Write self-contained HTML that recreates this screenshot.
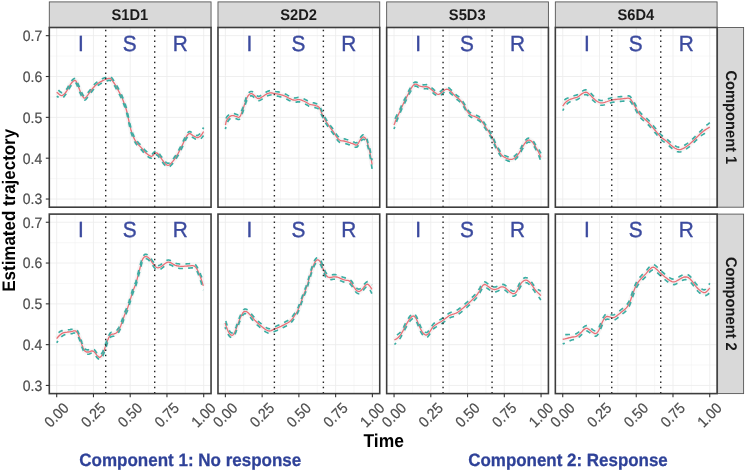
<!DOCTYPE html>
<html><head><meta charset="utf-8"><title>Estimated trajectory</title>
<style>html,body{margin:0;padding:0;background:#fff}svg{display:block}</style></head>
<body>
<svg width="745" height="472" viewBox="0 0 745 472" text-rendering="geometricPrecision" font-family="'Liberation Sans', Arial, Helvetica, sans-serif">
<rect width="745" height="472" fill="#fff"/>
<rect x="49.30" y="1.9" width="161.75" height="25.60" fill="#d9d9d9" stroke="#555" stroke-width="0.9"/>
<text transform="translate(129.88,19.7) scale(1,1.06)" font-size="14.7" font-weight="bold" fill="#1a1a1a" text-anchor="middle">S1D1</text>
<rect x="217.98" y="1.9" width="161.75" height="25.60" fill="#d9d9d9" stroke="#555" stroke-width="0.9"/>
<text transform="translate(298.56,19.7) scale(1,1.06)" font-size="14.7" font-weight="bold" fill="#1a1a1a" text-anchor="middle">S2D2</text>
<rect x="386.66" y="1.9" width="161.75" height="25.60" fill="#d9d9d9" stroke="#555" stroke-width="0.9"/>
<text transform="translate(467.24,19.7) scale(1,1.06)" font-size="14.7" font-weight="bold" fill="#1a1a1a" text-anchor="middle">S5D3</text>
<rect x="555.34" y="1.9" width="161.75" height="25.60" fill="#d9d9d9" stroke="#555" stroke-width="0.9"/>
<text transform="translate(635.92,19.7) scale(1,1.06)" font-size="14.7" font-weight="bold" fill="#1a1a1a" text-anchor="middle">S6D4</text>
<rect x="717.6" y="27.5" width="26.00" height="179.70" fill="#d9d9d9" stroke="#555" stroke-width="0.9"/>
<text transform="translate(725.6,117.35) rotate(90) scale(1,1.06)" font-size="14.7" font-weight="bold" fill="#1a1a1a" text-anchor="middle">Component 1</text>
<rect x="717.6" y="214.1" width="26.00" height="179.50" fill="#d9d9d9" stroke="#555" stroke-width="0.9"/>
<text transform="translate(725.6,303.85) rotate(90) scale(1,1.06)" font-size="14.7" font-weight="bold" fill="#1a1a1a" text-anchor="middle">Component 2</text>
<g>
<rect x="49.30" y="27.5" width="161.75" height="179.70" fill="#fff"/>
<line x1="75.07" x2="75.07" y1="27.5" y2="207.2" stroke="#f0f0f0" stroke-width="0.55"/>
<line x1="111.82" x2="111.82" y1="27.5" y2="207.2" stroke="#f0f0f0" stroke-width="0.55"/>
<line x1="148.57" x2="148.57" y1="27.5" y2="207.2" stroke="#f0f0f0" stroke-width="0.55"/>
<line x1="185.32" x2="185.32" y1="27.5" y2="207.2" stroke="#f0f0f0" stroke-width="0.55"/>
<line x1="49.30" x2="211.05" y1="178.61" y2="178.61" stroke="#f0f0f0" stroke-width="0.55"/>
<line x1="49.30" x2="211.05" y1="137.77" y2="137.77" stroke="#f0f0f0" stroke-width="0.55"/>
<line x1="49.30" x2="211.05" y1="96.93" y2="96.93" stroke="#f0f0f0" stroke-width="0.55"/>
<line x1="49.30" x2="211.05" y1="56.09" y2="56.09" stroke="#f0f0f0" stroke-width="0.55"/>
<line x1="56.70" x2="56.70" y1="27.5" y2="207.2" stroke="#ececec" stroke-width="0.85"/>
<line x1="93.45" x2="93.45" y1="27.5" y2="207.2" stroke="#ececec" stroke-width="0.85"/>
<line x1="130.20" x2="130.20" y1="27.5" y2="207.2" stroke="#ececec" stroke-width="0.85"/>
<line x1="166.95" x2="166.95" y1="27.5" y2="207.2" stroke="#ececec" stroke-width="0.85"/>
<line x1="203.70" x2="203.70" y1="27.5" y2="207.2" stroke="#ececec" stroke-width="0.85"/>
<line x1="49.30" x2="211.05" y1="199.03" y2="199.03" stroke="#ececec" stroke-width="0.85"/>
<line x1="49.30" x2="211.05" y1="158.19" y2="158.19" stroke="#ececec" stroke-width="0.85"/>
<line x1="49.30" x2="211.05" y1="117.35" y2="117.35" stroke="#ececec" stroke-width="0.85"/>
<line x1="49.30" x2="211.05" y1="76.51" y2="76.51" stroke="#ececec" stroke-width="0.85"/>
<line x1="49.30" x2="211.05" y1="35.67" y2="35.67" stroke="#ececec" stroke-width="0.85"/>
<path d="M56.7 92.2 L58.0 93.2 L59.2 94.4 L60.5 95.3 L61.7 95.6 L62.9 95.2 L64.1 94.3 L65.2 93.0 L66.4 91.5 L67.6 89.7 L68.8 87.4 L70.0 85.2 L71.1 83.5 L72.2 82.2 L73.3 81.1 L74.3 80.5 L75.2 80.4 L76.0 81.0 L76.6 82.3 L77.2 83.8 L77.9 85.5 L78.7 87.4 L79.5 89.5 L80.4 91.7 L81.2 93.5 L82.0 95.1 L82.8 96.7 L83.7 97.8 L84.6 98.2 L85.7 97.6 L86.8 96.3 L88.1 94.6 L89.3 92.9 L90.6 91.3 L91.9 89.5 L93.3 87.7 L94.6 86.2 L95.9 85.0 L97.3 83.9 L98.6 83.0 L100.0 82.1 L101.4 81.3 L102.8 80.6 L104.1 80.0 L105.4 79.5 L106.6 79.0 L107.8 78.6 L109.0 78.3 L110.0 78.4 L110.9 78.9 L111.7 79.8 L112.5 80.8 L113.4 82.1 L114.4 83.5 L115.4 85.1 L116.4 87.0 L117.5 88.9 L118.6 91.0 L119.8 93.2 L121.0 95.6 L122.2 98.2 L123.3 101.0 L124.4 103.9 L125.5 107.0 L126.4 110.0 L127.2 113.0 L127.8 116.1 L128.5 119.2 L129.1 122.1 L129.7 124.9 L130.4 127.7 L131.0 130.3 L131.8 132.8 L132.7 135.2 L133.6 137.4 L134.7 139.6 L135.8 141.5 L137.1 143.2 L138.5 144.8 L139.9 146.2 L141.2 147.6 L142.4 149.0 L143.6 150.5 L144.7 151.8 L145.9 153.0 L147.3 154.1 L148.7 155.2 L150.1 155.9 L151.3 156.3 L152.3 156.0 L153.1 155.2 L153.9 154.3 L154.6 153.6 L155.3 153.2 L155.9 152.9 L156.6 152.9 L157.3 153.2 L158.1 154.0 L158.9 155.1 L159.8 156.4 L160.7 157.7 L161.7 159.0 L162.7 160.5 L163.7 161.9 L164.7 163.0 L165.6 163.9 L166.4 164.6 L167.2 165.1 L168.0 165.3 L168.8 165.2 L169.6 164.8 L170.4 164.0 L171.4 163.0 L172.6 161.6 L174.0 159.8 L175.4 157.8 L176.8 155.6 L178.2 153.3 L179.5 150.7 L180.9 148.1 L182.1 145.6 L183.2 143.2 L184.3 140.8 L185.3 138.6 L186.2 136.8 L187.1 135.5 L187.9 134.5 L188.7 133.8 L189.5 133.5 L190.3 133.6 L191.2 134.2 L192.0 134.9 L192.9 135.5 L193.9 136.1 L194.9 136.7 L195.9 137.2 L196.9 137.5 L197.8 137.5 L198.6 137.3 L199.5 136.8 L200.3 136.2 L201.1 135.3 L202.0 134.1 L202.8 132.8 L203.6 131.5" fill="none" stroke="#eeeeee" stroke-width="5" stroke-linejoin="round" opacity="0.55"/>
<path d="M56.7 92.2 L58.0 93.2 L59.2 94.4 L60.5 95.3 L61.7 95.6 L62.9 95.2 L64.1 94.3 L65.2 93.0 L66.4 91.5 L67.6 89.7 L68.8 87.4 L70.0 85.2 L71.1 83.5 L72.2 82.2 L73.3 81.1 L74.3 80.5 L75.2 80.4 L76.0 81.0 L76.6 82.3 L77.2 83.8 L77.9 85.5 L78.7 87.4 L79.5 89.5 L80.4 91.7 L81.2 93.5 L82.0 95.1 L82.8 96.7 L83.7 97.8 L84.6 98.2 L85.7 97.6 L86.8 96.3 L88.1 94.6 L89.3 92.9 L90.6 91.3 L91.9 89.5 L93.3 87.7 L94.6 86.2 L95.9 85.0 L97.3 83.9 L98.6 83.0 L100.0 82.1 L101.4 81.3 L102.8 80.6 L104.1 80.0 L105.4 79.5 L106.6 79.0 L107.8 78.6 L109.0 78.3 L110.0 78.4 L110.9 78.9 L111.7 79.8 L112.5 80.8 L113.4 82.1 L114.4 83.5 L115.4 85.1 L116.4 87.0 L117.5 88.9 L118.6 91.0 L119.8 93.2 L121.0 95.6 L122.2 98.2 L123.3 101.0 L124.4 103.9 L125.5 107.0 L126.4 110.0 L127.2 113.0 L127.8 116.1 L128.5 119.2 L129.1 122.1 L129.7 124.9 L130.4 127.7 L131.0 130.3 L131.8 132.8 L132.7 135.2 L133.6 137.4 L134.7 139.6 L135.8 141.5 L137.1 143.2 L138.5 144.8 L139.9 146.2 L141.2 147.6 L142.4 149.0 L143.6 150.5 L144.7 151.8 L145.9 153.0 L147.3 154.1 L148.7 155.2 L150.1 155.9 L151.3 156.3 L152.3 156.0 L153.1 155.2 L153.9 154.3 L154.6 153.6 L155.3 153.2 L155.9 152.9 L156.6 152.9 L157.3 153.2 L158.1 154.0 L158.9 155.1 L159.8 156.4 L160.7 157.7 L161.7 159.0 L162.7 160.5 L163.7 161.9 L164.7 163.0 L165.6 163.9 L166.4 164.6 L167.2 165.1 L168.0 165.3 L168.8 165.2 L169.6 164.8 L170.4 164.0 L171.4 163.0 L172.6 161.6 L174.0 159.8 L175.4 157.8 L176.8 155.6 L178.2 153.3 L179.5 150.7 L180.9 148.1 L182.1 145.6 L183.2 143.2 L184.3 140.8 L185.3 138.6 L186.2 136.8 L187.1 135.5 L187.9 134.5 L188.7 133.8 L189.5 133.5 L190.3 133.6 L191.2 134.2 L192.0 134.9 L192.9 135.5 L193.9 136.1 L194.9 136.7 L195.9 137.2 L196.9 137.5 L197.8 137.5 L198.6 137.3 L199.5 136.8 L200.3 136.2 L201.1 135.3 L202.0 134.1 L202.8 132.8 L203.6 131.5" fill="none" stroke="#ea6f76" stroke-width="1.3" stroke-linejoin="round"/>
<path d="M56.7 88.2 L58.0 89.5 L59.2 90.9 L60.5 92.1 L61.7 92.7 L62.9 92.6 L64.1 91.9 L65.2 90.9 L66.4 89.5 L67.6 87.7 L68.8 85.4 L70.0 83.2 L71.1 81.5 L72.2 80.2 L73.3 79.1 L74.3 78.5 L75.2 78.4 L76.0 79.0 L76.6 80.3 L77.2 81.8 L77.9 83.5 L78.7 85.4 L79.5 87.5 L80.4 89.7 L81.2 91.5 L82.0 93.1 L82.8 94.7 L83.7 95.8 L84.6 96.2 L85.7 95.6 L86.8 94.3 L88.1 92.6 L89.3 90.9 L90.6 89.3 L91.9 87.5 L93.3 85.7 L94.6 84.2 L95.9 83.0 L97.3 81.9 L98.6 81.0 L100.0 80.1 L101.4 79.3 L102.8 78.6 L104.1 78.0 L105.4 77.5 L106.6 77.0 L107.8 76.6 L109.0 76.3 L110.0 76.4 L110.9 76.9 L111.7 77.8 L112.5 78.8 L113.4 80.1 L114.4 81.5 L115.4 83.1 L116.4 85.0 L117.5 86.9 L118.6 89.0 L119.8 91.2 L121.0 93.6 L122.2 96.2 L123.3 99.0 L124.4 101.9 L125.5 105.0 L126.4 108.0 L127.2 111.0 L127.8 114.1 L128.5 117.2 L129.1 120.1 L129.7 122.9 L130.4 125.7 L131.0 128.3 L131.8 130.8 L132.7 133.2 L133.6 135.4 L134.7 137.6 L135.8 139.5 L137.1 141.2 L138.5 142.8 L139.9 144.2 L141.2 145.6 L142.4 147.0 L143.6 148.5 L144.7 149.8 L145.9 151.0 L147.3 152.1 L148.7 153.2 L150.1 153.9 L151.3 154.3 L152.3 154.0 L153.1 153.2 L153.9 152.3 L154.6 151.6 L155.3 151.2 L155.9 150.9 L156.6 150.9 L157.3 151.2 L158.1 152.0 L158.9 153.1 L159.8 154.4 L160.7 155.7 L161.7 157.0 L162.7 158.5 L163.7 159.9 L164.7 161.0 L165.6 161.9 L166.4 162.6 L167.2 163.1 L168.0 163.3 L168.8 163.2 L169.6 162.8 L170.4 162.0 L171.4 161.0 L172.6 159.6 L174.0 157.8 L175.4 155.8 L176.8 153.6 L178.2 151.3 L179.5 148.7 L180.9 146.1 L182.1 143.6 L183.2 141.2 L184.3 138.8 L185.3 136.6 L186.2 134.8 L187.1 133.5 L187.9 132.5 L188.7 131.8 L189.5 131.5 L190.3 131.6 L191.2 132.2 L192.0 132.9 L192.9 133.5 L193.9 134.1 L194.9 134.7 L195.9 135.2 L196.9 135.5 L197.8 135.4 L198.6 134.9 L199.5 134.2 L200.3 133.3 L201.1 132.1 L202.0 130.6 L202.8 129.0 L203.6 127.5" fill="none" stroke="#3bada3" stroke-width="1.65" stroke-dasharray="4.8 5.2" stroke-dashoffset="7.5" stroke-linejoin="round"/>
<path d="M56.7 96.2 L58.0 96.9 L59.2 97.8 L60.5 98.4 L61.7 98.5 L62.9 97.8 L64.1 96.6 L65.2 95.0 L66.4 93.5 L67.6 91.7 L68.8 89.4 L70.0 87.2 L71.1 85.5 L72.2 84.2 L73.3 83.1 L74.3 82.5 L75.2 82.4 L76.0 83.0 L76.6 84.3 L77.2 85.8 L77.9 87.5 L78.7 89.4 L79.5 91.5 L80.4 93.7 L81.2 95.5 L82.0 97.1 L82.8 98.7 L83.7 99.8 L84.6 100.2 L85.7 99.6 L86.8 98.3 L88.1 96.6 L89.3 94.9 L90.6 93.3 L91.9 91.5 L93.3 89.7 L94.6 88.2 L95.9 87.0 L97.3 85.9 L98.6 85.0 L100.0 84.1 L101.4 83.3 L102.8 82.6 L104.1 82.0 L105.4 81.5 L106.6 81.0 L107.8 80.6 L109.0 80.3 L110.0 80.4 L110.9 80.9 L111.7 81.8 L112.5 82.8 L113.4 84.1 L114.4 85.5 L115.4 87.1 L116.4 89.0 L117.5 90.9 L118.6 93.0 L119.8 95.2 L121.0 97.6 L122.2 100.2 L123.3 103.0 L124.4 105.9 L125.5 109.0 L126.4 112.0 L127.2 115.0 L127.8 118.1 L128.5 121.2 L129.1 124.1 L129.7 126.9 L130.4 129.7 L131.0 132.3 L131.8 134.8 L132.7 137.2 L133.6 139.4 L134.7 141.6 L135.8 143.5 L137.1 145.2 L138.5 146.8 L139.9 148.2 L141.2 149.6 L142.4 151.0 L143.6 152.5 L144.7 153.8 L145.9 155.0 L147.3 156.1 L148.7 157.2 L150.1 157.9 L151.3 158.3 L152.3 158.0 L153.1 157.2 L153.9 156.3 L154.6 155.6 L155.3 155.2 L155.9 154.9 L156.6 154.9 L157.3 155.2 L158.1 156.0 L158.9 157.1 L159.8 158.4 L160.7 159.7 L161.7 161.0 L162.7 162.5 L163.7 163.9 L164.7 165.0 L165.6 165.9 L166.4 166.6 L167.2 167.1 L168.0 167.3 L168.8 167.2 L169.6 166.8 L170.4 166.0 L171.4 165.0 L172.6 163.6 L174.0 161.8 L175.4 159.8 L176.8 157.6 L178.2 155.3 L179.5 152.7 L180.9 150.1 L182.1 147.6 L183.2 145.2 L184.3 142.8 L185.3 140.6 L186.2 138.8 L187.1 137.5 L187.9 136.5 L188.7 135.8 L189.5 135.5 L190.3 135.6 L191.2 136.2 L192.0 136.9 L192.9 137.5 L193.9 138.1 L194.9 138.7 L195.9 139.2 L196.9 139.5 L197.8 139.5 L198.6 139.6 L199.5 139.5 L200.3 139.1 L201.1 138.4 L202.0 137.5 L202.8 136.5 L203.6 135.5" fill="none" stroke="#3bada3" stroke-width="1.65" stroke-dasharray="4.8 5.2" stroke-dashoffset="2.5" stroke-linejoin="round"/>
<line x1="105.70" x2="105.70" y1="207.2" y2="27.5" stroke="#262626" stroke-width="1.4" stroke-dasharray="1.5 3.83"/>
<line x1="154.70" x2="154.70" y1="207.2" y2="27.5" stroke="#262626" stroke-width="1.4" stroke-dasharray="1.5 3.83"/>
<text transform="translate(80.80,50.60) scale(1,1.055)" font-size="20.8" fill="#3b4a9e" stroke="#3b4a9e" stroke-width="0.35" text-anchor="middle">I</text>
<text transform="translate(129.70,50.60) scale(1,1.055)" font-size="20.8" fill="#3b4a9e" stroke="#3b4a9e" stroke-width="0.35" text-anchor="middle">S</text>
<text transform="translate(180.20,50.60) scale(1,1.055)" font-size="20.8" fill="#3b4a9e" stroke="#3b4a9e" stroke-width="0.35" text-anchor="middle">R</text>
<rect x="49.30" y="27.5" width="161.75" height="179.70" fill="none" stroke="#3d3d3d" stroke-width="1.6"/>
</g>
<g>
<rect x="217.98" y="27.5" width="161.75" height="179.70" fill="#fff"/>
<line x1="243.76" x2="243.76" y1="27.5" y2="207.2" stroke="#f0f0f0" stroke-width="0.55"/>
<line x1="280.50" x2="280.50" y1="27.5" y2="207.2" stroke="#f0f0f0" stroke-width="0.55"/>
<line x1="317.25" x2="317.25" y1="27.5" y2="207.2" stroke="#f0f0f0" stroke-width="0.55"/>
<line x1="354.00" x2="354.00" y1="27.5" y2="207.2" stroke="#f0f0f0" stroke-width="0.55"/>
<line x1="217.98" x2="379.73" y1="178.61" y2="178.61" stroke="#f0f0f0" stroke-width="0.55"/>
<line x1="217.98" x2="379.73" y1="137.77" y2="137.77" stroke="#f0f0f0" stroke-width="0.55"/>
<line x1="217.98" x2="379.73" y1="96.93" y2="96.93" stroke="#f0f0f0" stroke-width="0.55"/>
<line x1="217.98" x2="379.73" y1="56.09" y2="56.09" stroke="#f0f0f0" stroke-width="0.55"/>
<line x1="225.38" x2="225.38" y1="27.5" y2="207.2" stroke="#ececec" stroke-width="0.85"/>
<line x1="262.13" x2="262.13" y1="27.5" y2="207.2" stroke="#ececec" stroke-width="0.85"/>
<line x1="298.88" x2="298.88" y1="27.5" y2="207.2" stroke="#ececec" stroke-width="0.85"/>
<line x1="335.63" x2="335.63" y1="27.5" y2="207.2" stroke="#ececec" stroke-width="0.85"/>
<line x1="372.38" x2="372.38" y1="27.5" y2="207.2" stroke="#ececec" stroke-width="0.85"/>
<line x1="217.98" x2="379.73" y1="199.03" y2="199.03" stroke="#ececec" stroke-width="0.85"/>
<line x1="217.98" x2="379.73" y1="158.19" y2="158.19" stroke="#ececec" stroke-width="0.85"/>
<line x1="217.98" x2="379.73" y1="117.35" y2="117.35" stroke="#ececec" stroke-width="0.85"/>
<line x1="217.98" x2="379.73" y1="76.51" y2="76.51" stroke="#ececec" stroke-width="0.85"/>
<line x1="217.98" x2="379.73" y1="35.67" y2="35.67" stroke="#ececec" stroke-width="0.85"/>
<path d="M225.4 125.0 L225.7 123.8 L225.9 122.6 L226.2 121.4 L226.7 120.3 L227.4 119.2 L228.3 118.0 L229.2 117.1 L230.1 116.3 L230.9 115.9 L231.8 115.6 L232.6 115.6 L233.4 115.6 L234.3 115.8 L235.1 116.1 L236.0 116.4 L236.8 116.7 L237.5 117.0 L238.2 117.3 L238.8 117.3 L239.5 117.0 L240.2 116.1 L240.9 114.8 L241.5 113.3 L242.2 111.6 L242.9 109.8 L243.5 107.7 L244.1 105.6 L244.8 103.6 L245.5 101.7 L246.1 99.9 L246.8 98.2 L247.5 96.8 L248.2 95.7 L248.8 94.9 L249.5 94.3 L250.2 93.9 L250.9 93.7 L251.5 93.7 L252.2 93.8 L252.9 94.2 L253.7 94.9 L254.6 95.8 L255.5 96.8 L256.3 97.5 L257.0 98.0 L257.6 98.3 L258.2 98.5 L258.9 98.5 L259.7 98.3 L260.5 97.9 L261.4 97.4 L262.3 96.8 L263.3 96.2 L264.3 95.5 L265.3 94.8 L266.3 94.2 L267.3 93.7 L268.3 93.3 L269.3 93.0 L270.3 92.8 L271.3 92.8 L272.3 93.0 L273.3 93.3 L274.4 93.5 L275.6 93.7 L277.0 93.9 L278.3 94.1 L279.7 94.4 L281.0 94.8 L282.4 95.2 L283.7 95.7 L285.1 96.2 L286.5 96.8 L287.9 97.6 L289.2 98.3 L290.5 98.9 L291.6 99.4 L292.6 99.8 L293.5 100.0 L294.5 100.2 L295.5 100.1 L296.5 99.9 L297.5 99.7 L298.5 99.6 L299.5 99.7 L300.6 99.9 L301.6 100.2 L302.6 100.6 L303.6 101.0 L304.6 101.5 L305.6 102.0 L306.6 102.5 L307.5 103.0 L308.2 103.5 L309.0 104.0 L310.0 104.4 L311.2 104.7 L312.6 104.9 L313.9 105.1 L315.2 105.4 L316.3 105.8 L317.4 106.1 L318.3 106.7 L319.2 107.5 L319.9 108.7 L320.6 110.2 L321.2 111.9 L321.9 113.5 L322.7 115.1 L323.5 116.8 L324.4 118.6 L325.3 120.2 L326.3 121.8 L327.3 123.3 L328.3 124.8 L329.3 126.3 L330.3 127.7 L331.3 129.0 L332.3 130.3 L333.3 131.6 L334.2 133.0 L335.0 134.4 L335.9 135.8 L336.7 137.0 L337.5 138.0 L338.3 138.9 L339.1 139.7 L340.0 140.3 L341.0 140.6 L342.0 140.8 L343.0 140.8 L344.1 141.0 L345.2 141.3 L346.5 141.7 L347.7 142.0 L348.8 142.4 L349.8 142.7 L350.8 143.1 L351.8 143.4 L352.8 143.7 L353.8 144.2 L354.8 144.7 L355.8 145.1 L356.8 145.0 L357.7 144.1 L358.6 142.8 L359.4 141.3 L360.2 140.0 L361.0 139.0 L361.8 138.0 L362.5 137.3 L363.3 137.0 L364.1 137.2 L364.9 137.7 L365.6 138.5 L366.3 139.5 L366.8 140.7 L367.2 142.0 L367.6 143.5 L368.0 145.0 L368.4 146.3 L368.8 147.5 L369.1 149.0 L369.6 151.0 L370.2 153.9 L370.8 157.3 L371.5 161.0 L372.1 164.6" fill="none" stroke="#eeeeee" stroke-width="5" stroke-linejoin="round" opacity="0.55"/>
<path d="M225.4 125.0 L225.7 123.8 L225.9 122.6 L226.2 121.4 L226.7 120.3 L227.4 119.2 L228.3 118.0 L229.2 117.1 L230.1 116.3 L230.9 115.9 L231.8 115.6 L232.6 115.6 L233.4 115.6 L234.3 115.8 L235.1 116.1 L236.0 116.4 L236.8 116.7 L237.5 117.0 L238.2 117.3 L238.8 117.3 L239.5 117.0 L240.2 116.1 L240.9 114.8 L241.5 113.3 L242.2 111.6 L242.9 109.8 L243.5 107.7 L244.1 105.6 L244.8 103.6 L245.5 101.7 L246.1 99.9 L246.8 98.2 L247.5 96.8 L248.2 95.7 L248.8 94.9 L249.5 94.3 L250.2 93.9 L250.9 93.7 L251.5 93.7 L252.2 93.8 L252.9 94.2 L253.7 94.9 L254.6 95.8 L255.5 96.8 L256.3 97.5 L257.0 98.0 L257.6 98.3 L258.2 98.5 L258.9 98.5 L259.7 98.3 L260.5 97.9 L261.4 97.4 L262.3 96.8 L263.3 96.2 L264.3 95.5 L265.3 94.8 L266.3 94.2 L267.3 93.7 L268.3 93.3 L269.3 93.0 L270.3 92.8 L271.3 92.8 L272.3 93.0 L273.3 93.3 L274.4 93.5 L275.6 93.7 L277.0 93.9 L278.3 94.1 L279.7 94.4 L281.0 94.8 L282.4 95.2 L283.7 95.7 L285.1 96.2 L286.5 96.8 L287.9 97.6 L289.2 98.3 L290.5 98.9 L291.6 99.4 L292.6 99.8 L293.5 100.0 L294.5 100.2 L295.5 100.1 L296.5 99.9 L297.5 99.7 L298.5 99.6 L299.5 99.7 L300.6 99.9 L301.6 100.2 L302.6 100.6 L303.6 101.0 L304.6 101.5 L305.6 102.0 L306.6 102.5 L307.5 103.0 L308.2 103.5 L309.0 104.0 L310.0 104.4 L311.2 104.7 L312.6 104.9 L313.9 105.1 L315.2 105.4 L316.3 105.8 L317.4 106.1 L318.3 106.7 L319.2 107.5 L319.9 108.7 L320.6 110.2 L321.2 111.9 L321.9 113.5 L322.7 115.1 L323.5 116.8 L324.4 118.6 L325.3 120.2 L326.3 121.8 L327.3 123.3 L328.3 124.8 L329.3 126.3 L330.3 127.7 L331.3 129.0 L332.3 130.3 L333.3 131.6 L334.2 133.0 L335.0 134.4 L335.9 135.8 L336.7 137.0 L337.5 138.0 L338.3 138.9 L339.1 139.7 L340.0 140.3 L341.0 140.6 L342.0 140.8 L343.0 140.8 L344.1 141.0 L345.2 141.3 L346.5 141.7 L347.7 142.0 L348.8 142.4 L349.8 142.7 L350.8 143.1 L351.8 143.4 L352.8 143.7 L353.8 144.2 L354.8 144.7 L355.8 145.1 L356.8 145.0 L357.7 144.1 L358.6 142.8 L359.4 141.3 L360.2 140.0 L361.0 139.0 L361.8 138.0 L362.5 137.3 L363.3 137.0 L364.1 137.2 L364.9 137.7 L365.6 138.5 L366.3 139.5 L366.8 140.7 L367.2 142.0 L367.6 143.5 L368.0 145.0 L368.4 146.3 L368.8 147.5 L369.1 149.0 L369.6 151.0 L370.2 153.9 L370.8 157.3 L371.5 161.0 L372.1 164.6" fill="none" stroke="#ea6f76" stroke-width="1.3" stroke-linejoin="round"/>
<path d="M225.4 120.8 L225.7 119.8 L225.9 118.9 L226.2 117.9 L226.7 117.1 L227.4 116.2 L228.3 115.3 L229.2 114.5 L230.1 114.0 L230.9 113.7 L231.8 113.4 L232.6 113.4 L233.4 113.4 L234.3 113.6 L235.1 113.9 L236.0 114.2 L236.8 114.5 L237.5 114.8 L238.2 115.1 L238.8 115.1 L239.5 114.8 L240.2 113.9 L240.9 112.6 L241.5 111.1 L242.2 109.4 L242.9 107.6 L243.5 105.5 L244.1 103.4 L244.8 101.4 L245.5 99.5 L246.1 97.7 L246.8 96.0 L247.5 94.6 L248.2 93.5 L248.8 92.7 L249.5 92.1 L250.2 91.7 L250.9 91.5 L251.5 91.5 L252.2 91.6 L252.9 92.0 L253.7 92.7 L254.6 93.6 L255.5 94.6 L256.3 95.3 L257.0 95.8 L257.6 96.1 L258.2 96.3 L258.9 96.3 L259.7 96.1 L260.5 95.7 L261.4 95.2 L262.3 94.6 L263.3 94.0 L264.3 93.3 L265.3 92.6 L266.3 92.0 L267.3 91.5 L268.3 91.1 L269.3 90.8 L270.3 90.6 L271.3 90.6 L272.3 90.8 L273.3 91.1 L274.4 91.3 L275.6 91.5 L277.0 91.7 L278.3 91.9 L279.7 92.2 L281.0 92.6 L282.4 93.0 L283.7 93.5 L285.1 94.0 L286.5 94.6 L287.9 95.4 L289.2 96.1 L290.5 96.7 L291.6 97.2 L292.6 97.6 L293.5 97.8 L294.5 98.0 L295.5 97.9 L296.5 97.7 L297.5 97.5 L298.5 97.4 L299.5 97.5 L300.6 97.7 L301.6 98.0 L302.6 98.4 L303.6 98.8 L304.6 99.3 L305.6 99.8 L306.6 100.3 L307.5 100.8 L308.2 101.3 L309.0 101.8 L310.0 102.2 L311.2 102.5 L312.6 102.7 L313.9 102.9 L315.2 103.2 L316.3 103.6 L317.4 103.9 L318.3 104.5 L319.2 105.3 L319.9 106.5 L320.6 108.0 L321.2 109.7 L321.9 111.3 L322.7 112.9 L323.5 114.6 L324.4 116.4 L325.3 118.0 L326.3 119.6 L327.3 121.1 L328.3 122.6 L329.3 124.1 L330.3 125.5 L331.3 126.8 L332.3 128.1 L333.3 129.4 L334.2 130.8 L335.0 132.2 L335.9 133.6 L336.7 134.8 L337.5 135.8 L338.3 136.7 L339.1 137.5 L340.0 138.1 L341.0 138.4 L342.0 138.6 L343.0 138.6 L344.1 138.8 L345.2 139.1 L346.5 139.5 L347.7 139.8 L348.8 140.2 L349.8 140.5 L350.8 140.9 L351.8 141.2 L352.8 141.5 L353.8 142.0 L354.8 142.5 L355.8 142.9 L356.8 142.8 L357.7 141.9 L358.6 140.6 L359.4 139.1 L360.2 137.8 L361.0 136.8 L361.8 135.8 L362.5 135.1 L363.3 134.8 L364.1 135.0 L364.9 135.5 L365.6 136.3 L366.3 137.3 L366.8 138.5 L367.2 139.8 L367.6 141.3 L368.0 142.7 L368.4 143.8 L368.8 144.7 L369.1 145.9 L369.6 147.8 L370.2 150.4 L370.8 153.6 L371.5 157.1 L372.1 160.4" fill="none" stroke="#3bada3" stroke-width="1.65" stroke-dasharray="4.8 5.2" stroke-dashoffset="7.5" stroke-linejoin="round"/>
<path d="M225.4 129.2 L225.7 127.8 L225.9 126.3 L226.2 124.9 L226.7 123.5 L227.4 122.2 L228.3 120.8 L229.2 119.6 L230.1 118.6 L230.9 118.1 L231.8 117.8 L232.6 117.8 L233.4 117.8 L234.3 118.0 L235.1 118.3 L236.0 118.6 L236.8 118.9 L237.5 119.2 L238.2 119.5 L238.8 119.5 L239.5 119.2 L240.2 118.3 L240.9 117.0 L241.5 115.5 L242.2 113.8 L242.9 112.0 L243.5 109.9 L244.1 107.8 L244.8 105.8 L245.5 103.9 L246.1 102.1 L246.8 100.4 L247.5 99.0 L248.2 97.9 L248.8 97.1 L249.5 96.5 L250.2 96.1 L250.9 95.9 L251.5 95.9 L252.2 96.0 L252.9 96.4 L253.7 97.1 L254.6 98.0 L255.5 99.0 L256.3 99.7 L257.0 100.2 L257.6 100.5 L258.2 100.7 L258.9 100.7 L259.7 100.5 L260.5 100.1 L261.4 99.6 L262.3 99.0 L263.3 98.4 L264.3 97.7 L265.3 97.0 L266.3 96.4 L267.3 95.9 L268.3 95.5 L269.3 95.2 L270.3 95.0 L271.3 95.0 L272.3 95.2 L273.3 95.5 L274.4 95.7 L275.6 95.9 L277.0 96.1 L278.3 96.3 L279.7 96.6 L281.0 97.0 L282.4 97.4 L283.7 97.9 L285.1 98.4 L286.5 99.0 L287.9 99.8 L289.2 100.5 L290.5 101.1 L291.6 101.6 L292.6 102.0 L293.5 102.2 L294.5 102.4 L295.5 102.3 L296.5 102.1 L297.5 101.9 L298.5 101.8 L299.5 101.9 L300.6 102.1 L301.6 102.4 L302.6 102.8 L303.6 103.2 L304.6 103.7 L305.6 104.2 L306.6 104.7 L307.5 105.2 L308.2 105.7 L309.0 106.2 L310.0 106.6 L311.2 106.9 L312.6 107.1 L313.9 107.3 L315.2 107.6 L316.3 108.0 L317.4 108.3 L318.3 108.9 L319.2 109.7 L319.9 110.9 L320.6 112.4 L321.2 114.1 L321.9 115.7 L322.7 117.3 L323.5 119.0 L324.4 120.8 L325.3 122.4 L326.3 124.0 L327.3 125.5 L328.3 127.0 L329.3 128.5 L330.3 129.9 L331.3 131.2 L332.3 132.5 L333.3 133.8 L334.2 135.2 L335.0 136.6 L335.9 138.0 L336.7 139.2 L337.5 140.2 L338.3 141.1 L339.1 141.9 L340.0 142.5 L341.0 142.8 L342.0 143.0 L343.0 143.0 L344.1 143.2 L345.2 143.5 L346.5 143.9 L347.7 144.2 L348.8 144.6 L349.8 144.9 L350.8 145.3 L351.8 145.6 L352.8 145.9 L353.8 146.4 L354.8 146.9 L355.8 147.3 L356.8 147.2 L357.7 146.3 L358.6 145.0 L359.4 143.5 L360.2 142.2 L361.0 141.2 L361.8 140.2 L362.5 139.5 L363.3 139.2 L364.1 139.4 L364.9 139.9 L365.6 140.7 L366.3 141.7 L366.8 142.9 L367.2 144.2 L367.6 145.7 L368.0 147.3 L368.4 148.8 L368.8 150.3 L369.1 152.0 L369.6 154.2 L370.2 157.4 L370.8 161.0 L371.5 165.0 L372.1 168.8" fill="none" stroke="#3bada3" stroke-width="1.65" stroke-dasharray="4.8 5.2" stroke-dashoffset="2.5" stroke-linejoin="round"/>
<line x1="274.38" x2="274.38" y1="207.2" y2="27.5" stroke="#262626" stroke-width="1.4" stroke-dasharray="1.5 3.83"/>
<line x1="323.38" x2="323.38" y1="207.2" y2="27.5" stroke="#262626" stroke-width="1.4" stroke-dasharray="1.5 3.83"/>
<text transform="translate(249.48,50.60) scale(1,1.055)" font-size="20.8" fill="#3b4a9e" stroke="#3b4a9e" stroke-width="0.35" text-anchor="middle">I</text>
<text transform="translate(298.38,50.60) scale(1,1.055)" font-size="20.8" fill="#3b4a9e" stroke="#3b4a9e" stroke-width="0.35" text-anchor="middle">S</text>
<text transform="translate(348.88,50.60) scale(1,1.055)" font-size="20.8" fill="#3b4a9e" stroke="#3b4a9e" stroke-width="0.35" text-anchor="middle">R</text>
<rect x="217.98" y="27.5" width="161.75" height="179.70" fill="none" stroke="#3d3d3d" stroke-width="1.6"/>
</g>
<g>
<rect x="386.66" y="27.5" width="161.75" height="179.70" fill="#fff"/>
<line x1="412.44" x2="412.44" y1="27.5" y2="207.2" stroke="#f0f0f0" stroke-width="0.55"/>
<line x1="449.19" x2="449.19" y1="27.5" y2="207.2" stroke="#f0f0f0" stroke-width="0.55"/>
<line x1="485.94" x2="485.94" y1="27.5" y2="207.2" stroke="#f0f0f0" stroke-width="0.55"/>
<line x1="522.68" x2="522.68" y1="27.5" y2="207.2" stroke="#f0f0f0" stroke-width="0.55"/>
<line x1="386.66" x2="548.41" y1="178.61" y2="178.61" stroke="#f0f0f0" stroke-width="0.55"/>
<line x1="386.66" x2="548.41" y1="137.77" y2="137.77" stroke="#f0f0f0" stroke-width="0.55"/>
<line x1="386.66" x2="548.41" y1="96.93" y2="96.93" stroke="#f0f0f0" stroke-width="0.55"/>
<line x1="386.66" x2="548.41" y1="56.09" y2="56.09" stroke="#f0f0f0" stroke-width="0.55"/>
<line x1="394.06" x2="394.06" y1="27.5" y2="207.2" stroke="#ececec" stroke-width="0.85"/>
<line x1="430.81" x2="430.81" y1="27.5" y2="207.2" stroke="#ececec" stroke-width="0.85"/>
<line x1="467.56" x2="467.56" y1="27.5" y2="207.2" stroke="#ececec" stroke-width="0.85"/>
<line x1="504.31" x2="504.31" y1="27.5" y2="207.2" stroke="#ececec" stroke-width="0.85"/>
<line x1="541.06" x2="541.06" y1="27.5" y2="207.2" stroke="#ececec" stroke-width="0.85"/>
<line x1="386.66" x2="548.41" y1="199.03" y2="199.03" stroke="#ececec" stroke-width="0.85"/>
<line x1="386.66" x2="548.41" y1="158.19" y2="158.19" stroke="#ececec" stroke-width="0.85"/>
<line x1="386.66" x2="548.41" y1="117.35" y2="117.35" stroke="#ececec" stroke-width="0.85"/>
<line x1="386.66" x2="548.41" y1="76.51" y2="76.51" stroke="#ececec" stroke-width="0.85"/>
<line x1="386.66" x2="548.41" y1="35.67" y2="35.67" stroke="#ececec" stroke-width="0.85"/>
<path d="M394.0 125.0 L394.6 123.5 L395.1 122.1 L395.7 120.6 L396.4 119.0 L397.2 117.2 L398.0 115.4 L398.9 113.5 L399.8 111.6 L400.6 109.7 L401.4 107.9 L402.3 106.0 L403.1 104.2 L403.9 102.5 L404.8 100.8 L405.7 99.2 L406.5 97.5 L407.3 95.8 L408.2 94.1 L409.0 92.4 L409.8 90.8 L410.7 89.3 L411.5 87.8 L412.4 86.4 L413.2 85.4 L413.9 84.7 L414.6 84.3 L415.2 84.1 L415.9 84.1 L416.7 84.3 L417.5 84.8 L418.3 85.4 L419.2 85.8 L420.1 86.1 L421.1 86.4 L422.2 86.6 L423.2 86.8 L424.2 86.8 L425.3 86.7 L426.3 86.6 L427.3 86.8 L428.3 87.3 L429.3 87.9 L430.3 88.7 L431.3 89.5 L432.3 90.3 L433.3 91.2 L434.3 92.1 L435.3 92.8 L436.2 93.4 L437.0 94.0 L437.9 94.3 L438.7 94.4 L439.5 94.1 L440.3 93.5 L441.2 92.8 L442.0 92.1 L442.9 91.4 L443.7 90.7 L444.6 90.0 L445.4 89.5 L446.1 89.3 L446.8 89.2 L447.4 89.3 L448.1 89.5 L448.9 89.9 L449.7 90.5 L450.5 91.3 L451.4 92.1 L452.4 93.0 L453.4 94.1 L454.4 95.1 L455.5 96.2 L456.6 97.2 L457.9 98.1 L459.1 99.1 L460.2 100.2 L461.3 101.4 L462.3 102.8 L463.3 104.2 L464.2 105.6 L465.1 107.1 L465.9 108.7 L466.7 110.3 L467.5 111.6 L468.3 112.7 L469.2 113.6 L470.0 114.3 L470.9 115.0 L471.9 115.5 L472.8 115.9 L473.9 116.2 L475.0 116.7 L476.2 117.2 L477.5 117.8 L478.8 118.5 L480.0 119.4 L481.1 120.5 L482.1 121.8 L483.1 123.2 L484.0 124.5 L484.8 125.7 L485.6 126.8 L486.3 128.0 L487.0 129.0 L487.6 129.9 L488.1 130.7 L488.6 131.5 L489.2 132.5 L490.0 133.8 L490.8 135.2 L491.7 136.8 L492.6 138.6 L493.5 140.6 L494.5 142.9 L495.5 145.2 L496.6 147.3 L497.7 149.3 L498.9 151.3 L500.1 153.2 L501.3 154.7 L502.5 155.9 L503.6 156.7 L504.8 157.4 L506.0 158.0 L507.3 158.6 L508.7 159.1 L510.1 159.4 L511.4 159.4 L512.6 159.1 L513.8 158.5 L515.0 157.7 L516.1 156.7 L517.2 155.6 L518.2 154.2 L519.2 152.8 L520.1 151.3 L521.0 149.8 L521.8 148.2 L522.7 146.7 L523.5 145.3 L524.3 144.0 L525.2 142.8 L526.0 141.8 L526.8 141.0 L527.5 140.5 L528.1 140.2 L528.8 140.1 L529.5 140.2 L530.3 140.5 L531.2 141.0 L532.0 141.7 L532.9 142.6 L533.7 143.8 L534.6 145.2 L535.4 146.6 L536.2 148.0 L536.9 149.2 L537.6 150.4 L538.3 151.5 L538.9 152.7 L539.4 153.9 L539.9 155.0 L540.4 156.2 L540.9 157.4" fill="none" stroke="#eeeeee" stroke-width="5" stroke-linejoin="round" opacity="0.55"/>
<path d="M394.0 125.0 L394.6 123.5 L395.1 122.1 L395.7 120.6 L396.4 119.0 L397.2 117.2 L398.0 115.4 L398.9 113.5 L399.8 111.6 L400.6 109.7 L401.4 107.9 L402.3 106.0 L403.1 104.2 L403.9 102.5 L404.8 100.8 L405.7 99.2 L406.5 97.5 L407.3 95.8 L408.2 94.1 L409.0 92.4 L409.8 90.8 L410.7 89.3 L411.5 87.8 L412.4 86.4 L413.2 85.4 L413.9 84.7 L414.6 84.3 L415.2 84.1 L415.9 84.1 L416.7 84.3 L417.5 84.8 L418.3 85.4 L419.2 85.8 L420.1 86.1 L421.1 86.4 L422.2 86.6 L423.2 86.8 L424.2 86.8 L425.3 86.7 L426.3 86.6 L427.3 86.8 L428.3 87.3 L429.3 87.9 L430.3 88.7 L431.3 89.5 L432.3 90.3 L433.3 91.2 L434.3 92.1 L435.3 92.8 L436.2 93.4 L437.0 94.0 L437.9 94.3 L438.7 94.4 L439.5 94.1 L440.3 93.5 L441.2 92.8 L442.0 92.1 L442.9 91.4 L443.7 90.7 L444.6 90.0 L445.4 89.5 L446.1 89.3 L446.8 89.2 L447.4 89.3 L448.1 89.5 L448.9 89.9 L449.7 90.5 L450.5 91.3 L451.4 92.1 L452.4 93.0 L453.4 94.1 L454.4 95.1 L455.5 96.2 L456.6 97.2 L457.9 98.1 L459.1 99.1 L460.2 100.2 L461.3 101.4 L462.3 102.8 L463.3 104.2 L464.2 105.6 L465.1 107.1 L465.9 108.7 L466.7 110.3 L467.5 111.6 L468.3 112.7 L469.2 113.6 L470.0 114.3 L470.9 115.0 L471.9 115.5 L472.8 115.9 L473.9 116.2 L475.0 116.7 L476.2 117.2 L477.5 117.8 L478.8 118.5 L480.0 119.4 L481.1 120.5 L482.1 121.8 L483.1 123.2 L484.0 124.5 L484.8 125.7 L485.6 126.8 L486.3 128.0 L487.0 129.0 L487.6 129.9 L488.1 130.7 L488.6 131.5 L489.2 132.5 L490.0 133.8 L490.8 135.2 L491.7 136.8 L492.6 138.6 L493.5 140.6 L494.5 142.9 L495.5 145.2 L496.6 147.3 L497.7 149.3 L498.9 151.3 L500.1 153.2 L501.3 154.7 L502.5 155.9 L503.6 156.7 L504.8 157.4 L506.0 158.0 L507.3 158.6 L508.7 159.1 L510.1 159.4 L511.4 159.4 L512.6 159.1 L513.8 158.5 L515.0 157.7 L516.1 156.7 L517.2 155.6 L518.2 154.2 L519.2 152.8 L520.1 151.3 L521.0 149.8 L521.8 148.2 L522.7 146.7 L523.5 145.3 L524.3 144.0 L525.2 142.8 L526.0 141.8 L526.8 141.0 L527.5 140.5 L528.1 140.2 L528.8 140.1 L529.5 140.2 L530.3 140.5 L531.2 141.0 L532.0 141.7 L532.9 142.6 L533.7 143.8 L534.6 145.2 L535.4 146.6 L536.2 148.0 L536.9 149.2 L537.6 150.4 L538.3 151.5 L538.9 152.7 L539.4 153.9 L539.9 155.0 L540.4 156.2 L540.9 157.4" fill="none" stroke="#ea6f76" stroke-width="1.3" stroke-linejoin="round"/>
<path d="M394.0 121.0 L394.6 119.8 L395.1 118.6 L395.7 117.3 L396.4 116.0 L397.2 114.5 L398.0 112.9 L398.9 111.2 L399.8 109.6 L400.6 107.7 L401.4 105.9 L402.3 104.0 L403.1 102.2 L403.9 100.5 L404.8 98.8 L405.7 97.2 L406.5 95.5 L407.3 93.8 L408.2 92.1 L409.0 90.4 L409.8 88.8 L410.7 87.3 L411.5 85.8 L412.4 84.4 L413.2 83.4 L413.9 82.7 L414.6 82.3 L415.2 82.1 L415.9 82.1 L416.7 82.3 L417.5 82.8 L418.3 83.4 L419.2 83.8 L420.1 84.1 L421.1 84.4 L422.2 84.6 L423.2 84.8 L424.2 84.8 L425.3 84.7 L426.3 84.6 L427.3 84.8 L428.3 85.3 L429.3 85.9 L430.3 86.7 L431.3 87.5 L432.3 88.3 L433.3 89.2 L434.3 90.1 L435.3 90.8 L436.2 91.4 L437.0 92.0 L437.9 92.3 L438.7 92.4 L439.5 92.1 L440.3 91.5 L441.2 90.8 L442.0 90.1 L442.9 89.4 L443.7 88.7 L444.6 88.0 L445.4 87.5 L446.1 87.3 L446.8 87.2 L447.4 87.3 L448.1 87.5 L448.9 87.9 L449.7 88.5 L450.5 89.3 L451.4 90.1 L452.4 91.0 L453.4 92.1 L454.4 93.1 L455.5 94.2 L456.6 95.2 L457.9 96.1 L459.1 97.1 L460.2 98.2 L461.3 99.4 L462.3 100.8 L463.3 102.2 L464.2 103.6 L465.1 105.1 L465.9 106.7 L466.7 108.3 L467.5 109.6 L468.3 110.7 L469.2 111.6 L470.0 112.3 L470.9 113.0 L471.9 113.5 L472.8 113.9 L473.9 114.2 L475.0 114.7 L476.2 115.2 L477.5 115.8 L478.8 116.5 L480.0 117.4 L481.1 118.5 L482.1 119.8 L483.1 121.2 L484.0 122.5 L484.8 123.7 L485.6 124.8 L486.3 126.0 L487.0 127.0 L487.6 127.9 L488.1 128.7 L488.6 129.5 L489.2 130.5 L490.0 131.8 L490.8 133.2 L491.7 134.8 L492.6 136.6 L493.5 138.6 L494.5 140.9 L495.5 143.2 L496.6 145.3 L497.7 147.3 L498.9 149.3 L500.1 151.2 L501.3 152.7 L502.5 153.9 L503.6 154.7 L504.8 155.4 L506.0 156.0 L507.3 156.6 L508.7 157.1 L510.1 157.4 L511.4 157.4 L512.6 157.1 L513.8 156.5 L515.0 155.7 L516.1 154.7 L517.2 153.6 L518.2 152.2 L519.2 150.8 L520.1 149.3 L521.0 147.8 L521.8 146.2 L522.7 144.7 L523.5 143.3 L524.3 142.0 L525.2 140.8 L526.0 139.8 L526.8 139.0 L527.5 138.5 L528.1 138.2 L528.8 138.1 L529.5 138.2 L530.3 138.5 L531.2 139.0 L532.0 139.7 L532.9 140.6 L533.7 141.8 L534.6 143.2 L535.4 144.6 L536.2 146.0 L536.9 146.9 L537.6 147.9 L538.3 148.8 L538.9 149.7 L539.4 150.6 L539.9 151.5 L540.4 152.5 L540.9 153.4" fill="none" stroke="#3bada3" stroke-width="1.65" stroke-dasharray="4.8 5.2" stroke-dashoffset="7.5" stroke-linejoin="round"/>
<path d="M394.0 129.0 L394.6 127.3 L395.1 125.6 L395.7 123.9 L396.4 122.0 L397.2 120.0 L398.0 117.9 L398.9 115.8 L399.8 113.6 L400.6 111.7 L401.4 109.9 L402.3 108.0 L403.1 106.2 L403.9 104.5 L404.8 102.8 L405.7 101.2 L406.5 99.5 L407.3 97.8 L408.2 96.1 L409.0 94.4 L409.8 92.8 L410.7 91.3 L411.5 89.8 L412.4 88.4 L413.2 87.4 L413.9 86.7 L414.6 86.3 L415.2 86.1 L415.9 86.1 L416.7 86.3 L417.5 86.8 L418.3 87.4 L419.2 87.8 L420.1 88.1 L421.1 88.4 L422.2 88.6 L423.2 88.8 L424.2 88.8 L425.3 88.7 L426.3 88.6 L427.3 88.8 L428.3 89.3 L429.3 89.9 L430.3 90.7 L431.3 91.5 L432.3 92.3 L433.3 93.2 L434.3 94.1 L435.3 94.8 L436.2 95.4 L437.0 96.0 L437.9 96.3 L438.7 96.4 L439.5 96.1 L440.3 95.5 L441.2 94.8 L442.0 94.1 L442.9 93.4 L443.7 92.7 L444.6 92.0 L445.4 91.5 L446.1 91.3 L446.8 91.2 L447.4 91.3 L448.1 91.5 L448.9 91.9 L449.7 92.5 L450.5 93.3 L451.4 94.1 L452.4 95.0 L453.4 96.1 L454.4 97.1 L455.5 98.2 L456.6 99.2 L457.9 100.1 L459.1 101.1 L460.2 102.2 L461.3 103.4 L462.3 104.8 L463.3 106.2 L464.2 107.6 L465.1 109.1 L465.9 110.7 L466.7 112.3 L467.5 113.6 L468.3 114.7 L469.2 115.6 L470.0 116.3 L470.9 117.0 L471.9 117.5 L472.8 117.9 L473.9 118.2 L475.0 118.7 L476.2 119.2 L477.5 119.8 L478.8 120.5 L480.0 121.4 L481.1 122.5 L482.1 123.8 L483.1 125.2 L484.0 126.5 L484.8 127.7 L485.6 128.8 L486.3 130.0 L487.0 131.0 L487.6 131.9 L488.1 132.7 L488.6 133.5 L489.2 134.5 L490.0 135.8 L490.8 137.2 L491.7 138.8 L492.6 140.6 L493.5 142.6 L494.5 144.9 L495.5 147.2 L496.6 149.3 L497.7 151.3 L498.9 153.3 L500.1 155.2 L501.3 156.7 L502.5 157.9 L503.6 158.7 L504.8 159.4 L506.0 160.0 L507.3 160.6 L508.7 161.1 L510.1 161.4 L511.4 161.4 L512.6 161.1 L513.8 160.5 L515.0 159.7 L516.1 158.7 L517.2 157.6 L518.2 156.2 L519.2 154.8 L520.1 153.3 L521.0 151.8 L521.8 150.2 L522.7 148.7 L523.5 147.3 L524.3 146.0 L525.2 144.8 L526.0 143.8 L526.8 143.0 L527.5 142.5 L528.1 142.2 L528.8 142.1 L529.5 142.2 L530.3 142.5 L531.2 143.0 L532.0 143.7 L532.9 144.6 L533.7 145.8 L534.6 147.2 L535.4 148.6 L536.2 150.0 L536.9 151.5 L537.6 152.9 L538.3 154.3 L538.9 155.7 L539.4 157.1 L539.9 158.6 L540.4 160.0 L540.9 161.4" fill="none" stroke="#3bada3" stroke-width="1.65" stroke-dasharray="4.8 5.2" stroke-dashoffset="2.5" stroke-linejoin="round"/>
<line x1="443.06" x2="443.06" y1="207.2" y2="27.5" stroke="#262626" stroke-width="1.4" stroke-dasharray="1.5 3.83"/>
<line x1="492.06" x2="492.06" y1="207.2" y2="27.5" stroke="#262626" stroke-width="1.4" stroke-dasharray="1.5 3.83"/>
<text transform="translate(418.16,50.60) scale(1,1.055)" font-size="20.8" fill="#3b4a9e" stroke="#3b4a9e" stroke-width="0.35" text-anchor="middle">I</text>
<text transform="translate(467.06,50.60) scale(1,1.055)" font-size="20.8" fill="#3b4a9e" stroke="#3b4a9e" stroke-width="0.35" text-anchor="middle">S</text>
<text transform="translate(517.56,50.60) scale(1,1.055)" font-size="20.8" fill="#3b4a9e" stroke="#3b4a9e" stroke-width="0.35" text-anchor="middle">R</text>
<rect x="386.66" y="27.5" width="161.75" height="179.70" fill="none" stroke="#3d3d3d" stroke-width="1.6"/>
</g>
<g>
<rect x="555.34" y="27.5" width="161.75" height="179.70" fill="#fff"/>
<line x1="581.12" x2="581.12" y1="27.5" y2="207.2" stroke="#f0f0f0" stroke-width="0.55"/>
<line x1="617.87" x2="617.87" y1="27.5" y2="207.2" stroke="#f0f0f0" stroke-width="0.55"/>
<line x1="654.62" x2="654.62" y1="27.5" y2="207.2" stroke="#f0f0f0" stroke-width="0.55"/>
<line x1="691.37" x2="691.37" y1="27.5" y2="207.2" stroke="#f0f0f0" stroke-width="0.55"/>
<line x1="555.34" x2="717.09" y1="178.61" y2="178.61" stroke="#f0f0f0" stroke-width="0.55"/>
<line x1="555.34" x2="717.09" y1="137.77" y2="137.77" stroke="#f0f0f0" stroke-width="0.55"/>
<line x1="555.34" x2="717.09" y1="96.93" y2="96.93" stroke="#f0f0f0" stroke-width="0.55"/>
<line x1="555.34" x2="717.09" y1="56.09" y2="56.09" stroke="#f0f0f0" stroke-width="0.55"/>
<line x1="562.74" x2="562.74" y1="27.5" y2="207.2" stroke="#ececec" stroke-width="0.85"/>
<line x1="599.49" x2="599.49" y1="27.5" y2="207.2" stroke="#ececec" stroke-width="0.85"/>
<line x1="636.24" x2="636.24" y1="27.5" y2="207.2" stroke="#ececec" stroke-width="0.85"/>
<line x1="672.99" x2="672.99" y1="27.5" y2="207.2" stroke="#ececec" stroke-width="0.85"/>
<line x1="709.74" x2="709.74" y1="27.5" y2="207.2" stroke="#ececec" stroke-width="0.85"/>
<line x1="555.34" x2="717.09" y1="199.03" y2="199.03" stroke="#ececec" stroke-width="0.85"/>
<line x1="555.34" x2="717.09" y1="158.19" y2="158.19" stroke="#ececec" stroke-width="0.85"/>
<line x1="555.34" x2="717.09" y1="117.35" y2="117.35" stroke="#ececec" stroke-width="0.85"/>
<line x1="555.34" x2="717.09" y1="76.51" y2="76.51" stroke="#ececec" stroke-width="0.85"/>
<line x1="555.34" x2="717.09" y1="35.67" y2="35.67" stroke="#ececec" stroke-width="0.85"/>
<path d="M562.7 106.2 L563.4 105.2 L564.1 104.1 L564.9 103.1 L565.7 102.2 L566.7 101.4 L567.7 100.7 L568.8 100.0 L569.8 99.5 L570.8 99.1 L571.8 98.8 L572.8 98.5 L573.8 98.2 L574.8 97.9 L575.8 97.6 L576.8 97.3 L577.8 96.8 L578.8 96.2 L579.8 95.4 L580.8 94.6 L581.8 93.9 L582.8 93.3 L583.9 92.7 L584.9 92.3 L585.9 92.1 L586.8 92.3 L587.6 92.8 L588.3 93.4 L589.2 94.2 L590.2 95.1 L591.2 96.1 L592.3 97.2 L593.3 98.2 L594.3 99.1 L595.3 100.0 L596.3 100.8 L597.3 101.5 L598.3 102.0 L599.3 102.5 L600.3 102.8 L601.3 102.9 L602.4 102.8 L603.6 102.6 L604.8 102.3 L606.0 101.9 L607.3 101.5 L608.7 101.0 L610.0 100.6 L611.4 100.2 L612.7 99.9 L614.0 99.7 L615.4 99.5 L616.7 99.3 L618.0 99.2 L619.4 99.1 L620.7 99.0 L622.1 98.9 L623.5 98.7 L624.9 98.5 L626.3 98.3 L627.5 98.2 L628.4 98.2 L629.1 98.3 L629.8 98.6 L630.6 99.3 L631.5 100.5 L632.5 102.1 L633.6 103.8 L634.6 105.6 L635.6 107.4 L636.6 109.3 L637.6 111.2 L638.6 112.8 L639.5 114.0 L640.3 115.1 L641.2 116.0 L642.2 117.0 L643.4 118.1 L644.9 119.3 L646.3 120.5 L647.6 121.7 L648.8 122.9 L649.9 124.2 L651.0 125.4 L652.0 126.6 L653.0 127.7 L653.9 128.8 L654.8 130.0 L655.9 131.2 L657.1 132.7 L658.5 134.3 L659.8 135.9 L661.2 137.3 L662.5 138.4 L663.9 139.4 L665.2 140.3 L666.6 141.3 L668.0 142.5 L669.4 143.7 L670.7 144.9 L672.0 146.0 L673.1 146.9 L674.1 147.6 L675.1 148.2 L676.0 148.7 L676.9 149.1 L677.7 149.4 L678.6 149.5 L679.4 149.6 L680.2 149.6 L680.9 149.4 L681.7 149.1 L682.7 148.7 L683.9 148.1 L685.3 147.2 L686.7 146.3 L688.1 145.3 L689.5 144.2 L690.8 143.1 L692.2 141.8 L693.5 140.6 L694.8 139.3 L696.1 137.9 L697.5 136.6 L698.8 135.3 L700.1 134.1 L701.5 132.8 L702.8 131.7 L704.2 130.6 L705.6 129.6 L707.0 128.7 L708.4 127.9 L709.8 127.0" fill="none" stroke="#eeeeee" stroke-width="5" stroke-linejoin="round" opacity="0.55"/>
<path d="M562.7 106.2 L563.4 105.2 L564.1 104.1 L564.9 103.1 L565.7 102.2 L566.7 101.4 L567.7 100.7 L568.8 100.0 L569.8 99.5 L570.8 99.1 L571.8 98.8 L572.8 98.5 L573.8 98.2 L574.8 97.9 L575.8 97.6 L576.8 97.3 L577.8 96.8 L578.8 96.2 L579.8 95.4 L580.8 94.6 L581.8 93.9 L582.8 93.3 L583.9 92.7 L584.9 92.3 L585.9 92.1 L586.8 92.3 L587.6 92.8 L588.3 93.4 L589.2 94.2 L590.2 95.1 L591.2 96.1 L592.3 97.2 L593.3 98.2 L594.3 99.1 L595.3 100.0 L596.3 100.8 L597.3 101.5 L598.3 102.0 L599.3 102.5 L600.3 102.8 L601.3 102.9 L602.4 102.8 L603.6 102.6 L604.8 102.3 L606.0 101.9 L607.3 101.5 L608.7 101.0 L610.0 100.6 L611.4 100.2 L612.7 99.9 L614.0 99.7 L615.4 99.5 L616.7 99.3 L618.0 99.2 L619.4 99.1 L620.7 99.0 L622.1 98.9 L623.5 98.7 L624.9 98.5 L626.3 98.3 L627.5 98.2 L628.4 98.2 L629.1 98.3 L629.8 98.6 L630.6 99.3 L631.5 100.5 L632.5 102.1 L633.6 103.8 L634.6 105.6 L635.6 107.4 L636.6 109.3 L637.6 111.2 L638.6 112.8 L639.5 114.0 L640.3 115.1 L641.2 116.0 L642.2 117.0 L643.4 118.1 L644.9 119.3 L646.3 120.5 L647.6 121.7 L648.8 122.9 L649.9 124.2 L651.0 125.4 L652.0 126.6 L653.0 127.7 L653.9 128.8 L654.8 130.0 L655.9 131.2 L657.1 132.7 L658.5 134.3 L659.8 135.9 L661.2 137.3 L662.5 138.4 L663.9 139.4 L665.2 140.3 L666.6 141.3 L668.0 142.5 L669.4 143.7 L670.7 144.9 L672.0 146.0 L673.1 146.9 L674.1 147.6 L675.1 148.2 L676.0 148.7 L676.9 149.1 L677.7 149.4 L678.6 149.5 L679.4 149.6 L680.2 149.6 L680.9 149.4 L681.7 149.1 L682.7 148.7 L683.9 148.1 L685.3 147.2 L686.7 146.3 L688.1 145.3 L689.5 144.2 L690.8 143.1 L692.2 141.8 L693.5 140.6 L694.8 139.3 L696.1 137.9 L697.5 136.6 L698.8 135.3 L700.1 134.1 L701.5 132.8 L702.8 131.7 L704.2 130.6 L705.6 129.6 L707.0 128.7 L708.4 127.9 L709.8 127.0" fill="none" stroke="#ea6f76" stroke-width="1.3" stroke-linejoin="round"/>
<path d="M562.7 101.8 L563.4 101.1 L564.1 100.3 L564.9 99.6 L565.7 99.0 L566.7 98.5 L567.7 98.1 L568.8 97.6 L569.8 97.1 L570.8 96.7 L571.8 96.4 L572.8 96.1 L573.8 95.8 L574.8 95.5 L575.8 95.2 L576.8 94.9 L577.8 94.4 L578.8 93.8 L579.8 93.0 L580.8 92.2 L581.8 91.5 L582.8 90.9 L583.9 90.3 L584.9 89.9 L585.9 89.7 L586.8 89.9 L587.6 90.4 L588.3 91.0 L589.2 91.8 L590.2 92.7 L591.2 93.7 L592.3 94.8 L593.3 95.8 L594.3 96.7 L595.3 97.6 L596.3 98.4 L597.3 99.1 L598.3 99.6 L599.3 100.1 L600.3 100.4 L601.3 100.5 L602.4 100.4 L603.6 100.2 L604.8 99.9 L606.0 99.5 L607.3 99.1 L608.7 98.6 L610.0 98.2 L611.4 97.8 L612.7 97.5 L614.0 97.3 L615.4 97.1 L616.7 96.9 L618.0 96.8 L619.4 96.7 L620.7 96.6 L622.1 96.5 L623.5 96.3 L624.9 96.1 L626.3 95.9 L627.5 95.8 L628.4 95.8 L629.1 95.9 L629.8 96.2 L630.6 96.9 L631.5 98.1 L632.5 99.7 L633.6 101.4 L634.6 103.2 L635.6 105.0 L636.6 106.9 L637.6 108.8 L638.6 110.4 L639.5 111.6 L640.3 112.7 L641.2 113.6 L642.2 114.6 L643.4 115.7 L644.9 116.9 L646.3 118.1 L647.6 119.3 L648.8 120.5 L649.9 121.8 L651.0 123.0 L652.0 124.2 L653.0 125.3 L653.9 126.4 L654.8 127.6 L655.9 128.8 L657.1 130.3 L658.5 131.9 L659.8 133.5 L661.2 134.9 L662.5 136.0 L663.9 137.0 L665.2 137.9 L666.6 138.9 L668.0 140.1 L669.4 141.3 L670.7 142.5 L672.0 143.6 L673.1 144.5 L674.1 145.2 L675.1 145.8 L676.0 146.3 L676.9 146.7 L677.7 147.0 L678.6 147.1 L679.4 147.2 L680.2 147.2 L680.9 147.0 L681.7 146.7 L682.7 146.3 L683.9 145.7 L685.3 144.8 L686.7 143.9 L688.1 142.9 L689.5 141.8 L690.8 140.7 L692.2 139.4 L693.5 138.2 L694.8 136.9 L696.1 135.5 L697.5 134.2 L698.8 132.9 L700.1 131.7 L701.5 130.3 L702.8 128.8 L704.2 127.4 L705.6 126.1 L707.0 124.9 L708.4 123.8 L709.8 122.6" fill="none" stroke="#3bada3" stroke-width="1.65" stroke-dasharray="4.8 5.2" stroke-dashoffset="7.5" stroke-linejoin="round"/>
<path d="M562.7 110.6 L563.4 109.3 L564.1 107.9 L564.9 106.6 L565.7 105.4 L566.7 104.3 L567.7 103.3 L568.8 102.4 L569.8 101.9 L570.8 101.5 L571.8 101.2 L572.8 100.9 L573.8 100.6 L574.8 100.3 L575.8 100.0 L576.8 99.7 L577.8 99.2 L578.8 98.6 L579.8 97.8 L580.8 97.0 L581.8 96.3 L582.8 95.7 L583.9 95.1 L584.9 94.7 L585.9 94.5 L586.8 94.7 L587.6 95.2 L588.3 95.8 L589.2 96.6 L590.2 97.5 L591.2 98.5 L592.3 99.6 L593.3 100.6 L594.3 101.5 L595.3 102.4 L596.3 103.2 L597.3 103.9 L598.3 104.4 L599.3 104.9 L600.3 105.2 L601.3 105.3 L602.4 105.2 L603.6 105.0 L604.8 104.7 L606.0 104.3 L607.3 103.9 L608.7 103.4 L610.0 103.0 L611.4 102.6 L612.7 102.3 L614.0 102.1 L615.4 101.9 L616.7 101.7 L618.0 101.6 L619.4 101.5 L620.7 101.4 L622.1 101.3 L623.5 101.1 L624.9 100.9 L626.3 100.7 L627.5 100.6 L628.4 100.6 L629.1 100.7 L629.8 101.0 L630.6 101.7 L631.5 102.9 L632.5 104.5 L633.6 106.2 L634.6 108.0 L635.6 109.8 L636.6 111.7 L637.6 113.6 L638.6 115.2 L639.5 116.4 L640.3 117.5 L641.2 118.4 L642.2 119.4 L643.4 120.5 L644.9 121.7 L646.3 122.9 L647.6 124.1 L648.8 125.3 L649.9 126.6 L651.0 127.8 L652.0 129.0 L653.0 130.1 L653.9 131.2 L654.8 132.4 L655.9 133.6 L657.1 135.1 L658.5 136.7 L659.8 138.3 L661.2 139.7 L662.5 140.8 L663.9 141.8 L665.2 142.7 L666.6 143.7 L668.0 144.9 L669.4 146.1 L670.7 147.3 L672.0 148.4 L673.1 149.3 L674.1 150.0 L675.1 150.6 L676.0 151.1 L676.9 151.5 L677.7 151.8 L678.6 151.9 L679.4 152.0 L680.2 152.0 L680.9 151.8 L681.7 151.5 L682.7 151.1 L683.9 150.5 L685.3 149.6 L686.7 148.7 L688.1 147.7 L689.5 146.6 L690.8 145.5 L692.2 144.2 L693.5 143.0 L694.8 141.7 L696.1 140.3 L697.5 139.0 L698.8 137.7 L700.1 136.5 L701.5 135.4 L702.8 134.6 L704.2 133.8 L705.6 133.1 L707.0 132.5 L708.4 132.0 L709.8 131.4" fill="none" stroke="#3bada3" stroke-width="1.65" stroke-dasharray="4.8 5.2" stroke-dashoffset="2.5" stroke-linejoin="round"/>
<line x1="611.74" x2="611.74" y1="207.2" y2="27.5" stroke="#262626" stroke-width="1.4" stroke-dasharray="1.5 3.83"/>
<line x1="660.74" x2="660.74" y1="207.2" y2="27.5" stroke="#262626" stroke-width="1.4" stroke-dasharray="1.5 3.83"/>
<text transform="translate(586.84,50.60) scale(1,1.055)" font-size="20.8" fill="#3b4a9e" stroke="#3b4a9e" stroke-width="0.35" text-anchor="middle">I</text>
<text transform="translate(635.74,50.60) scale(1,1.055)" font-size="20.8" fill="#3b4a9e" stroke="#3b4a9e" stroke-width="0.35" text-anchor="middle">S</text>
<text transform="translate(686.24,50.60) scale(1,1.055)" font-size="20.8" fill="#3b4a9e" stroke="#3b4a9e" stroke-width="0.35" text-anchor="middle">R</text>
<rect x="555.34" y="27.5" width="161.75" height="179.70" fill="none" stroke="#3d3d3d" stroke-width="1.6"/>
</g>
<g>
<rect x="49.30" y="214.1" width="161.75" height="179.50" fill="#fff"/>
<line x1="75.07" x2="75.07" y1="214.1" y2="393.6" stroke="#f0f0f0" stroke-width="0.55"/>
<line x1="111.82" x2="111.82" y1="214.1" y2="393.6" stroke="#f0f0f0" stroke-width="0.55"/>
<line x1="148.57" x2="148.57" y1="214.1" y2="393.6" stroke="#f0f0f0" stroke-width="0.55"/>
<line x1="185.32" x2="185.32" y1="214.1" y2="393.6" stroke="#f0f0f0" stroke-width="0.55"/>
<line x1="49.30" x2="211.05" y1="365.04" y2="365.04" stroke="#f0f0f0" stroke-width="0.55"/>
<line x1="49.30" x2="211.05" y1="324.25" y2="324.25" stroke="#f0f0f0" stroke-width="0.55"/>
<line x1="49.30" x2="211.05" y1="283.45" y2="283.45" stroke="#f0f0f0" stroke-width="0.55"/>
<line x1="49.30" x2="211.05" y1="242.66" y2="242.66" stroke="#f0f0f0" stroke-width="0.55"/>
<line x1="56.70" x2="56.70" y1="214.1" y2="393.6" stroke="#ececec" stroke-width="0.85"/>
<line x1="93.45" x2="93.45" y1="214.1" y2="393.6" stroke="#ececec" stroke-width="0.85"/>
<line x1="130.20" x2="130.20" y1="214.1" y2="393.6" stroke="#ececec" stroke-width="0.85"/>
<line x1="166.95" x2="166.95" y1="214.1" y2="393.6" stroke="#ececec" stroke-width="0.85"/>
<line x1="203.70" x2="203.70" y1="214.1" y2="393.6" stroke="#ececec" stroke-width="0.85"/>
<line x1="49.30" x2="211.05" y1="385.44" y2="385.44" stroke="#ececec" stroke-width="0.85"/>
<line x1="49.30" x2="211.05" y1="344.65" y2="344.65" stroke="#ececec" stroke-width="0.85"/>
<line x1="49.30" x2="211.05" y1="303.85" y2="303.85" stroke="#ececec" stroke-width="0.85"/>
<line x1="49.30" x2="211.05" y1="263.05" y2="263.05" stroke="#ececec" stroke-width="0.85"/>
<line x1="49.30" x2="211.05" y1="222.26" y2="222.26" stroke="#ececec" stroke-width="0.85"/>
<path d="M56.7 338.6 L57.4 337.7 L58.2 336.8 L58.9 336.0 L59.7 335.2 L60.5 334.5 L61.3 333.9 L62.2 333.3 L63.1 332.9 L64.1 332.6 L65.1 332.4 L66.1 332.3 L67.1 332.2 L68.1 332.0 L69.1 331.9 L70.1 331.8 L71.1 331.6 L72.0 331.4 L72.9 331.1 L73.7 330.8 L74.5 330.8 L75.2 330.9 L75.9 331.2 L76.5 331.7 L77.2 332.5 L77.9 333.7 L78.6 335.2 L79.2 336.8 L79.9 338.6 L80.6 340.5 L81.3 342.7 L81.9 344.8 L82.6 346.6 L83.2 348.1 L83.9 349.4 L84.5 350.5 L85.2 351.3 L86.0 351.8 L86.9 352.0 L87.7 352.0 L88.6 352.0 L89.5 351.8 L90.3 351.4 L91.2 351.0 L92.0 350.9 L92.7 351.0 L93.3 351.3 L94.0 351.7 L94.6 352.2 L95.3 353.0 L95.9 353.9 L96.6 354.9 L97.3 355.7 L98.0 356.3 L98.7 356.9 L99.3 357.3 L100.0 357.3 L100.7 356.9 L101.3 356.2 L102.0 355.2 L102.7 354.0 L103.4 352.4 L104.1 350.6 L104.7 348.5 L105.4 346.6 L106.1 344.7 L106.8 342.7 L107.4 340.8 L108.1 339.2 L108.7 337.8 L109.4 336.6 L110.0 335.6 L110.7 334.8 L111.5 334.3 L112.4 334.2 L113.3 334.1 L114.1 333.9 L114.8 333.6 L115.5 333.4 L116.1 333.0 L116.8 332.5 L117.5 331.7 L118.2 330.8 L118.8 329.8 L119.5 328.5 L120.2 327.0 L120.9 325.4 L121.5 323.6 L122.2 321.8 L122.9 320.0 L123.5 318.1 L124.1 316.2 L124.8 314.4 L125.5 312.8 L126.2 311.3 L126.9 309.8 L127.6 308.0 L128.3 305.9 L129.1 303.5 L129.8 301.0 L130.5 298.7 L131.2 296.6 L131.8 294.5 L132.4 292.5 L133.1 290.6 L133.8 288.8 L134.5 287.2 L135.2 285.6 L135.8 283.9 L136.3 282.1 L136.8 280.3 L137.3 278.4 L137.8 276.5 L138.3 274.5 L138.8 272.5 L139.4 270.5 L139.9 268.5 L140.4 266.4 L141.0 264.2 L141.5 262.1 L142.1 260.4 L142.7 259.1 L143.3 258.1 L144.0 257.3 L144.6 256.8 L145.2 256.5 L145.9 256.4 L146.5 256.6 L147.2 256.8 L147.9 257.2 L148.5 257.7 L149.2 258.4 L149.9 259.1 L150.6 260.0 L151.2 261.0 L151.9 262.1 L152.6 263.1 L153.3 264.0 L153.9 265.0 L154.6 265.8 L155.3 266.5 L156.0 267.0 L156.6 267.4 L157.3 267.7 L158.0 267.8 L158.8 267.7 L159.6 267.4 L160.5 267.0 L161.3 266.5 L162.1 265.9 L163.0 265.2 L163.9 264.4 L164.7 263.8 L165.5 263.3 L166.3 262.8 L167.2 262.4 L168.0 262.2 L168.8 262.2 L169.7 262.4 L170.5 262.7 L171.4 263.1 L172.2 263.5 L173.0 264.1 L173.9 264.6 L174.8 265.1 L175.9 265.5 L177.0 265.8 L178.3 266.0 L179.5 266.2 L180.8 266.3 L182.1 266.3 L183.5 266.3 L184.8 266.2 L186.2 266.1 L187.6 266.0 L189.0 265.9 L190.2 265.8 L191.2 265.7 L192.1 265.7 L192.9 265.7 L193.6 265.8 L194.3 266.1 L194.9 266.5 L195.6 267.0 L196.2 267.8 L196.9 268.9 L197.6 270.2 L198.3 271.7 L198.9 273.2 L199.5 274.6 L200.1 276.1 L200.6 277.6 L201.2 279.2 L201.7 280.8 L202.3 282.5 L202.8 284.2 L203.3 285.9" fill="none" stroke="#eeeeee" stroke-width="5" stroke-linejoin="round" opacity="0.55"/>
<path d="M56.7 338.6 L57.4 337.7 L58.2 336.8 L58.9 336.0 L59.7 335.2 L60.5 334.5 L61.3 333.9 L62.2 333.3 L63.1 332.9 L64.1 332.6 L65.1 332.4 L66.1 332.3 L67.1 332.2 L68.1 332.0 L69.1 331.9 L70.1 331.8 L71.1 331.6 L72.0 331.4 L72.9 331.1 L73.7 330.8 L74.5 330.8 L75.2 330.9 L75.9 331.2 L76.5 331.7 L77.2 332.5 L77.9 333.7 L78.6 335.2 L79.2 336.8 L79.9 338.6 L80.6 340.5 L81.3 342.7 L81.9 344.8 L82.6 346.6 L83.2 348.1 L83.9 349.4 L84.5 350.5 L85.2 351.3 L86.0 351.8 L86.9 352.0 L87.7 352.0 L88.6 352.0 L89.5 351.8 L90.3 351.4 L91.2 351.0 L92.0 350.9 L92.7 351.0 L93.3 351.3 L94.0 351.7 L94.6 352.2 L95.3 353.0 L95.9 353.9 L96.6 354.9 L97.3 355.7 L98.0 356.3 L98.7 356.9 L99.3 357.3 L100.0 357.3 L100.7 356.9 L101.3 356.2 L102.0 355.2 L102.7 354.0 L103.4 352.4 L104.1 350.6 L104.7 348.5 L105.4 346.6 L106.1 344.7 L106.8 342.7 L107.4 340.8 L108.1 339.2 L108.7 337.8 L109.4 336.6 L110.0 335.6 L110.7 334.8 L111.5 334.3 L112.4 334.2 L113.3 334.1 L114.1 333.9 L114.8 333.6 L115.5 333.4 L116.1 333.0 L116.8 332.5 L117.5 331.7 L118.2 330.8 L118.8 329.8 L119.5 328.5 L120.2 327.0 L120.9 325.4 L121.5 323.6 L122.2 321.8 L122.9 320.0 L123.5 318.1 L124.1 316.2 L124.8 314.4 L125.5 312.8 L126.2 311.3 L126.9 309.8 L127.6 308.0 L128.3 305.9 L129.1 303.5 L129.8 301.0 L130.5 298.7 L131.2 296.6 L131.8 294.5 L132.4 292.5 L133.1 290.6 L133.8 288.8 L134.5 287.2 L135.2 285.6 L135.8 283.9 L136.3 282.1 L136.8 280.3 L137.3 278.4 L137.8 276.5 L138.3 274.5 L138.8 272.5 L139.4 270.5 L139.9 268.5 L140.4 266.4 L141.0 264.2 L141.5 262.1 L142.1 260.4 L142.7 259.1 L143.3 258.1 L144.0 257.3 L144.6 256.8 L145.2 256.5 L145.9 256.4 L146.5 256.6 L147.2 256.8 L147.9 257.2 L148.5 257.7 L149.2 258.4 L149.9 259.1 L150.6 260.0 L151.2 261.0 L151.9 262.1 L152.6 263.1 L153.3 264.0 L153.9 265.0 L154.6 265.8 L155.3 266.5 L156.0 267.0 L156.6 267.4 L157.3 267.7 L158.0 267.8 L158.8 267.7 L159.6 267.4 L160.5 267.0 L161.3 266.5 L162.1 265.9 L163.0 265.2 L163.9 264.4 L164.7 263.8 L165.5 263.3 L166.3 262.8 L167.2 262.4 L168.0 262.2 L168.8 262.2 L169.7 262.4 L170.5 262.7 L171.4 263.1 L172.2 263.5 L173.0 264.1 L173.9 264.6 L174.8 265.1 L175.9 265.5 L177.0 265.8 L178.3 266.0 L179.5 266.2 L180.8 266.3 L182.1 266.3 L183.5 266.3 L184.8 266.2 L186.2 266.1 L187.6 266.0 L189.0 265.9 L190.2 265.8 L191.2 265.7 L192.1 265.7 L192.9 265.7 L193.6 265.8 L194.3 266.1 L194.9 266.5 L195.6 267.0 L196.2 267.8 L196.9 268.9 L197.6 270.2 L198.3 271.7 L198.9 273.2 L199.5 274.6 L200.1 276.1 L200.6 277.6 L201.2 279.2 L201.7 280.8 L202.3 282.5 L202.8 284.2 L203.3 285.9" fill="none" stroke="#ea6f76" stroke-width="1.3" stroke-linejoin="round"/>
<path d="M56.7 334.4 L57.4 333.7 L58.2 333.0 L58.9 332.4 L59.7 331.8 L60.5 331.3 L61.3 330.9 L62.2 330.6 L63.1 330.3 L64.1 330.2 L65.1 330.2 L66.1 330.1 L67.1 330.0 L68.1 329.8 L69.1 329.7 L70.1 329.6 L71.1 329.4 L72.0 329.2 L72.9 328.9 L73.7 328.6 L74.5 328.6 L75.2 328.7 L75.9 329.0 L76.5 329.5 L77.2 330.3 L77.9 331.5 L78.6 333.0 L79.2 334.6 L79.9 336.4 L80.6 338.3 L81.3 340.5 L81.9 342.6 L82.6 344.4 L83.2 345.9 L83.9 347.2 L84.5 348.3 L85.2 349.1 L86.0 349.6 L86.9 349.8 L87.7 349.8 L88.6 349.8 L89.5 349.6 L90.3 349.2 L91.2 348.8 L92.0 348.7 L92.7 348.8 L93.3 349.1 L94.0 349.5 L94.6 350.0 L95.3 350.8 L95.9 351.7 L96.6 352.7 L97.3 353.5 L98.0 354.1 L98.7 354.7 L99.3 355.1 L100.0 355.1 L100.7 354.7 L101.3 354.0 L102.0 353.0 L102.7 351.8 L103.4 350.2 L104.1 348.4 L104.7 346.3 L105.4 344.4 L106.1 342.5 L106.8 340.5 L107.4 338.6 L108.1 337.0 L108.7 335.6 L109.4 334.4 L110.0 333.4 L110.7 332.6 L111.5 332.1 L112.4 332.0 L113.3 331.9 L114.1 331.7 L114.8 331.4 L115.5 331.2 L116.1 330.8 L116.8 330.3 L117.5 329.5 L118.2 328.6 L118.8 327.6 L119.5 326.3 L120.2 324.8 L120.9 323.2 L121.5 321.4 L122.2 319.6 L122.9 317.8 L123.5 315.9 L124.1 314.0 L124.8 312.2 L125.5 310.6 L126.2 309.1 L126.9 307.6 L127.6 305.8 L128.3 303.7 L129.1 301.3 L129.8 298.8 L130.5 296.5 L131.2 294.4 L131.8 292.3 L132.4 290.3 L133.1 288.4 L133.8 286.6 L134.5 285.0 L135.2 283.4 L135.8 281.7 L136.3 279.9 L136.8 278.1 L137.3 276.2 L137.8 274.3 L138.3 272.3 L138.8 270.3 L139.4 268.3 L139.9 266.3 L140.4 264.2 L141.0 262.0 L141.5 259.9 L142.1 258.2 L142.7 256.9 L143.3 255.9 L144.0 255.1 L144.6 254.6 L145.2 254.3 L145.9 254.2 L146.5 254.4 L147.2 254.6 L147.9 255.0 L148.5 255.5 L149.2 256.2 L149.9 256.9 L150.6 257.8 L151.2 258.8 L151.9 259.9 L152.6 260.9 L153.3 261.8 L153.9 262.8 L154.6 263.6 L155.3 264.3 L156.0 264.8 L156.6 265.2 L157.3 265.5 L158.0 265.6 L158.8 265.5 L159.6 265.2 L160.5 264.8 L161.3 264.3 L162.1 263.7 L163.0 263.0 L163.9 262.2 L164.7 261.6 L165.5 261.1 L166.3 260.6 L167.2 260.2 L168.0 260.0 L168.8 260.0 L169.7 260.2 L170.5 260.5 L171.4 260.9 L172.2 261.3 L173.0 261.9 L173.9 262.4 L174.8 262.9 L175.9 263.3 L177.0 263.6 L178.3 263.8 L179.5 264.0 L180.8 264.1 L182.1 264.1 L183.5 264.1 L184.8 264.0 L186.2 263.9 L187.6 263.8 L189.0 263.7 L190.2 263.6 L191.2 263.5 L192.1 263.5 L192.9 263.5 L193.6 263.6 L194.3 263.9 L194.9 264.3 L195.6 264.8 L196.2 265.6 L196.9 266.7 L197.6 268.0 L198.3 269.4 L198.9 270.6 L199.5 271.9 L200.1 273.1 L200.6 274.5 L201.2 275.8 L201.7 277.2 L202.3 278.7 L202.8 280.2 L203.3 281.7" fill="none" stroke="#3bada3" stroke-width="1.65" stroke-dasharray="4.8 5.2" stroke-dashoffset="7.5" stroke-linejoin="round"/>
<path d="M56.7 342.8 L57.4 341.7 L58.2 340.6 L58.9 339.6 L59.7 338.6 L60.5 337.7 L61.3 336.9 L62.2 336.1 L63.1 335.5 L64.1 335.0 L65.1 334.6 L66.1 334.5 L67.1 334.4 L68.1 334.2 L69.1 334.1 L70.1 334.0 L71.1 333.8 L72.0 333.6 L72.9 333.3 L73.7 333.0 L74.5 333.0 L75.2 333.1 L75.9 333.4 L76.5 333.9 L77.2 334.7 L77.9 335.9 L78.6 337.4 L79.2 339.0 L79.9 340.8 L80.6 342.7 L81.3 344.9 L81.9 347.0 L82.6 348.8 L83.2 350.3 L83.9 351.6 L84.5 352.7 L85.2 353.5 L86.0 354.0 L86.9 354.2 L87.7 354.2 L88.6 354.2 L89.5 354.0 L90.3 353.6 L91.2 353.2 L92.0 353.1 L92.7 353.2 L93.3 353.5 L94.0 353.9 L94.6 354.4 L95.3 355.2 L95.9 356.1 L96.6 357.1 L97.3 357.9 L98.0 358.5 L98.7 359.1 L99.3 359.5 L100.0 359.5 L100.7 359.1 L101.3 358.4 L102.0 357.4 L102.7 356.2 L103.4 354.6 L104.1 352.8 L104.7 350.7 L105.4 348.8 L106.1 346.9 L106.8 344.9 L107.4 343.0 L108.1 341.4 L108.7 340.0 L109.4 338.8 L110.0 337.8 L110.7 337.0 L111.5 336.5 L112.4 336.4 L113.3 336.3 L114.1 336.1 L114.8 335.8 L115.5 335.6 L116.1 335.2 L116.8 334.7 L117.5 333.9 L118.2 333.0 L118.8 332.0 L119.5 330.7 L120.2 329.2 L120.9 327.6 L121.5 325.8 L122.2 324.0 L122.9 322.2 L123.5 320.3 L124.1 318.4 L124.8 316.6 L125.5 315.0 L126.2 313.5 L126.9 312.0 L127.6 310.2 L128.3 308.1 L129.1 305.7 L129.8 303.2 L130.5 300.9 L131.2 298.8 L131.8 296.7 L132.4 294.7 L133.1 292.8 L133.8 291.0 L134.5 289.4 L135.2 287.8 L135.8 286.1 L136.3 284.3 L136.8 282.5 L137.3 280.6 L137.8 278.7 L138.3 276.7 L138.8 274.7 L139.4 272.7 L139.9 270.7 L140.4 268.6 L141.0 266.4 L141.5 264.3 L142.1 262.6 L142.7 261.3 L143.3 260.3 L144.0 259.5 L144.6 259.0 L145.2 258.7 L145.9 258.6 L146.5 258.8 L147.2 259.0 L147.9 259.4 L148.5 259.9 L149.2 260.6 L149.9 261.3 L150.6 262.2 L151.2 263.2 L151.9 264.3 L152.6 265.3 L153.3 266.2 L153.9 267.2 L154.6 268.0 L155.3 268.7 L156.0 269.2 L156.6 269.6 L157.3 269.9 L158.0 270.0 L158.8 269.9 L159.6 269.6 L160.5 269.2 L161.3 268.7 L162.1 268.1 L163.0 267.4 L163.9 266.6 L164.7 266.0 L165.5 265.5 L166.3 265.0 L167.2 264.6 L168.0 264.4 L168.8 264.4 L169.7 264.6 L170.5 264.9 L171.4 265.3 L172.2 265.7 L173.0 266.3 L173.9 266.8 L174.8 267.3 L175.9 267.7 L177.0 268.0 L178.3 268.2 L179.5 268.4 L180.8 268.5 L182.1 268.5 L183.5 268.5 L184.8 268.4 L186.2 268.3 L187.6 268.2 L189.0 268.1 L190.2 268.0 L191.2 267.9 L192.1 267.9 L192.9 267.9 L193.6 268.0 L194.3 268.3 L194.9 268.7 L195.6 269.2 L196.2 270.0 L196.9 271.1 L197.6 272.4 L198.3 274.1 L198.9 275.8 L199.5 277.4 L200.1 279.1 L200.6 280.8 L201.2 282.6 L201.7 284.4 L202.3 286.3 L202.8 288.2 L203.3 290.1" fill="none" stroke="#3bada3" stroke-width="1.65" stroke-dasharray="4.8 5.2" stroke-dashoffset="2.5" stroke-linejoin="round"/>
<line x1="105.70" x2="105.70" y1="393.6" y2="214.1" stroke="#262626" stroke-width="1.4" stroke-dasharray="1.5 3.83"/>
<line x1="154.70" x2="154.70" y1="393.6" y2="214.1" stroke="#262626" stroke-width="1.4" stroke-dasharray="1.5 3.83"/>
<text transform="translate(80.80,237.20) scale(1,1.055)" font-size="20.8" fill="#3b4a9e" stroke="#3b4a9e" stroke-width="0.35" text-anchor="middle">I</text>
<text transform="translate(129.70,237.20) scale(1,1.055)" font-size="20.8" fill="#3b4a9e" stroke="#3b4a9e" stroke-width="0.35" text-anchor="middle">S</text>
<text transform="translate(180.20,237.20) scale(1,1.055)" font-size="20.8" fill="#3b4a9e" stroke="#3b4a9e" stroke-width="0.35" text-anchor="middle">R</text>
<rect x="49.30" y="214.1" width="161.75" height="179.50" fill="none" stroke="#3d3d3d" stroke-width="1.6"/>
</g>
<g>
<rect x="217.98" y="214.1" width="161.75" height="179.50" fill="#fff"/>
<line x1="243.76" x2="243.76" y1="214.1" y2="393.6" stroke="#f0f0f0" stroke-width="0.55"/>
<line x1="280.50" x2="280.50" y1="214.1" y2="393.6" stroke="#f0f0f0" stroke-width="0.55"/>
<line x1="317.25" x2="317.25" y1="214.1" y2="393.6" stroke="#f0f0f0" stroke-width="0.55"/>
<line x1="354.00" x2="354.00" y1="214.1" y2="393.6" stroke="#f0f0f0" stroke-width="0.55"/>
<line x1="217.98" x2="379.73" y1="365.04" y2="365.04" stroke="#f0f0f0" stroke-width="0.55"/>
<line x1="217.98" x2="379.73" y1="324.25" y2="324.25" stroke="#f0f0f0" stroke-width="0.55"/>
<line x1="217.98" x2="379.73" y1="283.45" y2="283.45" stroke="#f0f0f0" stroke-width="0.55"/>
<line x1="217.98" x2="379.73" y1="242.66" y2="242.66" stroke="#f0f0f0" stroke-width="0.55"/>
<line x1="225.38" x2="225.38" y1="214.1" y2="393.6" stroke="#ececec" stroke-width="0.85"/>
<line x1="262.13" x2="262.13" y1="214.1" y2="393.6" stroke="#ececec" stroke-width="0.85"/>
<line x1="298.88" x2="298.88" y1="214.1" y2="393.6" stroke="#ececec" stroke-width="0.85"/>
<line x1="335.63" x2="335.63" y1="214.1" y2="393.6" stroke="#ececec" stroke-width="0.85"/>
<line x1="372.38" x2="372.38" y1="214.1" y2="393.6" stroke="#ececec" stroke-width="0.85"/>
<line x1="217.98" x2="379.73" y1="385.44" y2="385.44" stroke="#ececec" stroke-width="0.85"/>
<line x1="217.98" x2="379.73" y1="344.65" y2="344.65" stroke="#ececec" stroke-width="0.85"/>
<line x1="217.98" x2="379.73" y1="303.85" y2="303.85" stroke="#ececec" stroke-width="0.85"/>
<line x1="217.98" x2="379.73" y1="263.05" y2="263.05" stroke="#ececec" stroke-width="0.85"/>
<line x1="217.98" x2="379.73" y1="222.26" y2="222.26" stroke="#ececec" stroke-width="0.85"/>
<path d="M225.1 322.9 L225.7 324.6 L226.2 326.4 L226.8 328.1 L227.4 329.6 L228.0 331.0 L228.7 332.3 L229.4 333.5 L230.1 334.3 L230.8 334.9 L231.5 335.2 L232.1 335.3 L232.8 335.0 L233.5 334.4 L234.1 333.4 L234.7 332.3 L235.4 330.9 L236.1 329.3 L236.7 327.4 L237.4 325.5 L238.1 323.6 L238.8 321.8 L239.4 320.0 L240.1 318.3 L240.8 316.8 L241.5 315.4 L242.2 314.1 L242.8 312.9 L243.5 312.1 L244.2 311.6 L244.8 311.3 L245.5 311.3 L246.2 311.5 L247.0 311.9 L247.8 312.5 L248.6 313.3 L249.5 314.2 L250.5 315.2 L251.5 316.4 L252.5 317.7 L253.6 318.9 L254.7 320.1 L255.9 321.3 L257.1 322.5 L258.3 323.6 L259.5 324.7 L260.7 325.7 L261.9 326.7 L263.0 327.6 L264.1 328.4 L265.1 329.2 L266.1 329.8 L267.0 330.3 L267.9 330.7 L268.6 330.9 L269.4 331.0 L270.3 330.9 L271.2 330.7 L272.2 330.2 L273.3 329.7 L274.4 329.2 L275.6 328.7 L277.0 328.1 L278.3 327.5 L279.7 326.9 L281.1 326.3 L282.4 325.6 L283.8 324.9 L285.1 324.2 L286.3 323.6 L287.5 323.0 L288.7 322.3 L289.8 321.5 L290.9 320.5 L291.9 319.3 L292.9 318.1 L293.8 316.8 L294.7 315.5 L295.6 314.2 L296.4 312.9 L297.2 311.5 L297.9 310.2 L298.5 308.8 L299.0 307.4 L299.6 306.0 L300.2 304.6 L300.7 303.1 L301.2 301.6 L301.8 300.0 L302.4 298.3 L303.1 296.4 L303.8 294.6 L304.5 292.7 L305.2 290.9 L305.9 289.1 L306.5 287.3 L307.2 285.3 L307.9 283.2 L308.5 281.0 L309.1 278.7 L309.8 276.5 L310.5 274.3 L311.1 272.0 L311.8 269.8 L312.5 267.8 L313.2 266.0 L313.9 264.4 L314.5 263.0 L315.2 261.8 L315.9 260.9 L316.5 260.3 L317.2 259.9 L317.9 259.8 L318.6 260.0 L319.2 260.6 L319.9 261.3 L320.6 262.4 L321.3 263.8 L322.0 265.6 L322.6 267.5 L323.3 269.2 L324.0 270.8 L324.6 272.5 L325.3 274.0 L326.0 275.2 L326.8 276.1 L327.6 276.8 L328.4 277.2 L329.3 277.5 L330.2 277.5 L331.2 277.3 L332.3 277.1 L333.3 276.9 L334.3 276.9 L335.3 276.9 L336.4 277.0 L337.4 277.2 L338.4 277.5 L339.4 277.9 L340.4 278.4 L341.4 278.8 L342.4 279.2 L343.4 279.6 L344.4 279.9 L345.4 280.2 L346.3 280.3 L347.2 280.3 L348.0 280.4 L348.8 280.6 L349.5 281.1 L350.2 281.7 L350.8 282.5 L351.5 283.3 L352.2 284.2 L352.8 285.3 L353.4 286.3 L354.1 287.3 L354.8 288.2 L355.4 289.2 L356.1 290.0 L356.8 290.6 L357.5 291.0 L358.1 291.3 L358.8 291.4 L359.5 291.3 L360.2 291.0 L360.9 290.6 L361.5 290.0 L362.2 289.3 L362.9 288.5 L363.6 287.6 L364.2 286.7 L364.9 285.9 L365.5 285.3 L366.1 284.7 L366.7 284.3 L367.3 284.2 L367.9 284.3 L368.5 284.7 L369.0 285.3 L369.6 285.9 L370.2 286.6 L370.8 287.5 L371.3 288.4 L371.9 289.3" fill="none" stroke="#eeeeee" stroke-width="5" stroke-linejoin="round" opacity="0.55"/>
<path d="M225.1 322.9 L225.7 324.6 L226.2 326.4 L226.8 328.1 L227.4 329.6 L228.0 331.0 L228.7 332.3 L229.4 333.5 L230.1 334.3 L230.8 334.9 L231.5 335.2 L232.1 335.3 L232.8 335.0 L233.5 334.4 L234.1 333.4 L234.7 332.3 L235.4 330.9 L236.1 329.3 L236.7 327.4 L237.4 325.5 L238.1 323.6 L238.8 321.8 L239.4 320.0 L240.1 318.3 L240.8 316.8 L241.5 315.4 L242.2 314.1 L242.8 312.9 L243.5 312.1 L244.2 311.6 L244.8 311.3 L245.5 311.3 L246.2 311.5 L247.0 311.9 L247.8 312.5 L248.6 313.3 L249.5 314.2 L250.5 315.2 L251.5 316.4 L252.5 317.7 L253.6 318.9 L254.7 320.1 L255.9 321.3 L257.1 322.5 L258.3 323.6 L259.5 324.7 L260.7 325.7 L261.9 326.7 L263.0 327.6 L264.1 328.4 L265.1 329.2 L266.1 329.8 L267.0 330.3 L267.9 330.7 L268.6 330.9 L269.4 331.0 L270.3 330.9 L271.2 330.7 L272.2 330.2 L273.3 329.7 L274.4 329.2 L275.6 328.7 L277.0 328.1 L278.3 327.5 L279.7 326.9 L281.1 326.3 L282.4 325.6 L283.8 324.9 L285.1 324.2 L286.3 323.6 L287.5 323.0 L288.7 322.3 L289.8 321.5 L290.9 320.5 L291.9 319.3 L292.9 318.1 L293.8 316.8 L294.7 315.5 L295.6 314.2 L296.4 312.9 L297.2 311.5 L297.9 310.2 L298.5 308.8 L299.0 307.4 L299.6 306.0 L300.2 304.6 L300.7 303.1 L301.2 301.6 L301.8 300.0 L302.4 298.3 L303.1 296.4 L303.8 294.6 L304.5 292.7 L305.2 290.9 L305.9 289.1 L306.5 287.3 L307.2 285.3 L307.9 283.2 L308.5 281.0 L309.1 278.7 L309.8 276.5 L310.5 274.3 L311.1 272.0 L311.8 269.8 L312.5 267.8 L313.2 266.0 L313.9 264.4 L314.5 263.0 L315.2 261.8 L315.9 260.9 L316.5 260.3 L317.2 259.9 L317.9 259.8 L318.6 260.0 L319.2 260.6 L319.9 261.3 L320.6 262.4 L321.3 263.8 L322.0 265.6 L322.6 267.5 L323.3 269.2 L324.0 270.8 L324.6 272.5 L325.3 274.0 L326.0 275.2 L326.8 276.1 L327.6 276.8 L328.4 277.2 L329.3 277.5 L330.2 277.5 L331.2 277.3 L332.3 277.1 L333.3 276.9 L334.3 276.9 L335.3 276.9 L336.4 277.0 L337.4 277.2 L338.4 277.5 L339.4 277.9 L340.4 278.4 L341.4 278.8 L342.4 279.2 L343.4 279.6 L344.4 279.9 L345.4 280.2 L346.3 280.3 L347.2 280.3 L348.0 280.4 L348.8 280.6 L349.5 281.1 L350.2 281.7 L350.8 282.5 L351.5 283.3 L352.2 284.2 L352.8 285.3 L353.4 286.3 L354.1 287.3 L354.8 288.2 L355.4 289.2 L356.1 290.0 L356.8 290.6 L357.5 291.0 L358.1 291.3 L358.8 291.4 L359.5 291.3 L360.2 291.0 L360.9 290.6 L361.5 290.0 L362.2 289.3 L362.9 288.5 L363.6 287.6 L364.2 286.7 L364.9 285.9 L365.5 285.3 L366.1 284.7 L366.7 284.3 L367.3 284.2 L367.9 284.3 L368.5 284.7 L369.0 285.3 L369.6 285.9 L370.2 286.6 L370.8 287.5 L371.3 288.4 L371.9 289.3" fill="none" stroke="#ea6f76" stroke-width="1.3" stroke-linejoin="round"/>
<path d="M225.1 318.6 L225.7 320.5 L226.2 322.5 L226.8 324.4 L227.4 326.2 L228.0 327.8 L228.7 329.3 L229.4 330.7 L230.1 331.7 L230.8 332.5 L231.5 332.9 L232.1 333.0 L232.8 332.7 L233.5 332.1 L234.1 331.1 L234.7 330.0 L235.4 328.6 L236.1 327.0 L236.7 325.1 L237.4 323.2 L238.1 321.3 L238.8 319.5 L239.4 317.7 L240.1 316.0 L240.8 314.5 L241.5 313.1 L242.2 311.8 L242.8 310.6 L243.5 309.8 L244.2 309.3 L244.8 309.0 L245.5 309.0 L246.2 309.2 L247.0 309.6 L247.8 310.2 L248.6 311.0 L249.5 311.9 L250.5 312.9 L251.5 314.1 L252.5 315.4 L253.6 316.6 L254.7 317.8 L255.9 319.0 L257.1 320.2 L258.3 321.3 L259.5 322.4 L260.7 323.4 L261.9 324.4 L263.0 325.3 L264.1 326.1 L265.1 326.9 L266.1 327.5 L267.0 328.0 L267.9 328.4 L268.6 328.6 L269.4 328.7 L270.3 328.6 L271.2 328.4 L272.2 327.9 L273.3 327.4 L274.4 326.9 L275.6 326.4 L277.0 325.8 L278.3 325.2 L279.7 324.6 L281.1 324.0 L282.4 323.3 L283.8 322.6 L285.1 321.9 L286.3 321.3 L287.5 320.7 L288.7 320.0 L289.8 319.2 L290.9 318.2 L291.9 317.0 L292.9 315.8 L293.8 314.5 L294.7 313.2 L295.6 311.9 L296.4 310.6 L297.2 309.2 L297.9 307.9 L298.5 306.5 L299.0 305.1 L299.6 303.7 L300.2 302.3 L300.7 300.8 L301.2 299.3 L301.8 297.7 L302.4 296.0 L303.1 294.1 L303.8 292.3 L304.5 290.4 L305.2 288.6 L305.9 286.8 L306.5 285.0 L307.2 283.0 L307.9 280.9 L308.5 278.7 L309.1 276.4 L309.8 274.2 L310.5 272.0 L311.1 269.7 L311.8 267.5 L312.5 265.5 L313.2 263.7 L313.9 262.1 L314.5 260.7 L315.2 259.5 L315.9 258.6 L316.5 258.0 L317.2 257.6 L317.9 257.5 L318.6 257.7 L319.2 258.2 L319.9 259.0 L320.6 260.1 L321.3 261.5 L322.0 263.3 L322.6 265.2 L323.3 266.9 L324.0 268.5 L324.6 270.2 L325.3 271.7 L326.0 272.9 L326.8 273.8 L327.6 274.5 L328.4 274.9 L329.3 275.2 L330.2 275.2 L331.2 275.0 L332.3 274.8 L333.3 274.6 L334.3 274.6 L335.3 274.6 L336.4 274.7 L337.4 274.9 L338.4 275.2 L339.4 275.6 L340.4 276.1 L341.4 276.5 L342.4 276.9 L343.4 277.3 L344.4 277.6 L345.4 277.9 L346.3 278.0 L347.2 278.0 L348.0 278.1 L348.8 278.3 L349.5 278.8 L350.2 279.4 L350.8 280.2 L351.5 281.0 L352.2 281.9 L352.8 283.0 L353.4 284.0 L354.1 285.0 L354.8 285.9 L355.4 286.9 L356.1 287.7 L356.8 288.3 L357.5 288.7 L358.1 289.0 L358.8 289.1 L359.5 289.0 L360.2 288.7 L360.9 288.3 L361.5 287.7 L362.2 287.0 L362.9 286.2 L363.6 285.3 L364.2 284.4 L364.9 283.6 L365.5 283.0 L366.1 282.4 L366.7 282.0 L367.3 281.6 L367.9 281.6 L368.5 281.7 L369.0 282.1 L369.6 282.5 L370.2 283.0 L370.8 283.6 L371.3 284.3 L371.9 285.0" fill="none" stroke="#3bada3" stroke-width="1.65" stroke-dasharray="4.8 5.2" stroke-dashoffset="7.5" stroke-linejoin="round"/>
<path d="M225.1 327.2 L225.7 328.7 L226.2 330.2 L226.8 331.7 L227.4 333.0 L228.0 334.2 L228.7 335.3 L229.4 336.2 L230.1 336.9 L230.8 337.2 L231.5 337.5 L232.1 337.6 L232.8 337.3 L233.5 336.7 L234.1 335.8 L234.7 334.6 L235.4 333.2 L236.1 331.6 L236.7 329.7 L237.4 327.8 L238.1 325.9 L238.8 324.1 L239.4 322.3 L240.1 320.6 L240.8 319.1 L241.5 317.7 L242.2 316.4 L242.8 315.2 L243.5 314.4 L244.2 313.9 L244.8 313.6 L245.5 313.6 L246.2 313.8 L247.0 314.2 L247.8 314.8 L248.6 315.6 L249.5 316.5 L250.5 317.5 L251.5 318.7 L252.5 320.0 L253.6 321.2 L254.7 322.4 L255.9 323.6 L257.1 324.8 L258.3 325.9 L259.5 327.0 L260.7 328.0 L261.9 329.0 L263.0 329.9 L264.1 330.7 L265.1 331.5 L266.1 332.1 L267.0 332.6 L267.9 333.0 L268.6 333.2 L269.4 333.3 L270.3 333.2 L271.2 333.0 L272.2 332.5 L273.3 332.0 L274.4 331.5 L275.6 331.0 L277.0 330.4 L278.3 329.8 L279.7 329.2 L281.1 328.6 L282.4 327.9 L283.8 327.2 L285.1 326.5 L286.3 325.9 L287.5 325.3 L288.7 324.6 L289.8 323.8 L290.9 322.8 L291.9 321.6 L292.9 320.4 L293.8 319.1 L294.7 317.8 L295.6 316.5 L296.4 315.2 L297.2 313.8 L297.9 312.5 L298.5 311.1 L299.0 309.7 L299.6 308.3 L300.2 306.9 L300.7 305.4 L301.2 303.9 L301.8 302.3 L302.4 300.6 L303.1 298.7 L303.8 296.9 L304.5 295.0 L305.2 293.2 L305.9 291.4 L306.5 289.6 L307.2 287.6 L307.9 285.5 L308.5 283.3 L309.1 281.0 L309.8 278.8 L310.5 276.6 L311.1 274.3 L311.8 272.1 L312.5 270.1 L313.2 268.3 L313.9 266.7 L314.5 265.3 L315.2 264.1 L315.9 263.2 L316.5 262.6 L317.2 262.2 L317.9 262.1 L318.6 262.3 L319.2 262.9 L319.9 263.6 L320.6 264.7 L321.3 266.1 L322.0 267.9 L322.6 269.8 L323.3 271.5 L324.0 273.1 L324.6 274.8 L325.3 276.3 L326.0 277.5 L326.8 278.4 L327.6 279.1 L328.4 279.5 L329.3 279.8 L330.2 279.8 L331.2 279.6 L332.3 279.4 L333.3 279.2 L334.3 279.2 L335.3 279.2 L336.4 279.3 L337.4 279.5 L338.4 279.8 L339.4 280.2 L340.4 280.7 L341.4 281.1 L342.4 281.5 L343.4 281.9 L344.4 282.2 L345.4 282.5 L346.3 282.6 L347.2 282.6 L348.0 282.7 L348.8 282.9 L349.5 283.4 L350.2 284.0 L350.8 284.8 L351.5 285.6 L352.2 286.5 L352.8 287.6 L353.4 288.6 L354.1 289.6 L354.8 290.5 L355.4 291.5 L356.1 292.3 L356.8 292.9 L357.5 293.3 L358.1 293.6 L358.8 293.7 L359.5 293.6 L360.2 293.3 L360.9 292.9 L361.5 292.3 L362.2 291.6 L362.9 290.8 L363.6 289.9 L364.2 289.0 L364.9 288.2 L365.5 287.6 L366.1 287.0 L366.7 286.7 L367.3 286.8 L367.9 287.1 L368.5 287.7 L369.0 288.5 L369.6 289.3 L370.2 290.3 L370.8 291.4 L371.3 292.5 L371.9 293.6" fill="none" stroke="#3bada3" stroke-width="1.65" stroke-dasharray="4.8 5.2" stroke-dashoffset="2.5" stroke-linejoin="round"/>
<line x1="274.38" x2="274.38" y1="393.6" y2="214.1" stroke="#262626" stroke-width="1.4" stroke-dasharray="1.5 3.83"/>
<line x1="323.38" x2="323.38" y1="393.6" y2="214.1" stroke="#262626" stroke-width="1.4" stroke-dasharray="1.5 3.83"/>
<text transform="translate(249.48,237.20) scale(1,1.055)" font-size="20.8" fill="#3b4a9e" stroke="#3b4a9e" stroke-width="0.35" text-anchor="middle">I</text>
<text transform="translate(298.38,237.20) scale(1,1.055)" font-size="20.8" fill="#3b4a9e" stroke="#3b4a9e" stroke-width="0.35" text-anchor="middle">S</text>
<text transform="translate(348.88,237.20) scale(1,1.055)" font-size="20.8" fill="#3b4a9e" stroke="#3b4a9e" stroke-width="0.35" text-anchor="middle">R</text>
<rect x="217.98" y="214.1" width="161.75" height="179.50" fill="none" stroke="#3d3d3d" stroke-width="1.6"/>
</g>
<g>
<rect x="386.66" y="214.1" width="161.75" height="179.50" fill="#fff"/>
<line x1="412.44" x2="412.44" y1="214.1" y2="393.6" stroke="#f0f0f0" stroke-width="0.55"/>
<line x1="449.19" x2="449.19" y1="214.1" y2="393.6" stroke="#f0f0f0" stroke-width="0.55"/>
<line x1="485.94" x2="485.94" y1="214.1" y2="393.6" stroke="#f0f0f0" stroke-width="0.55"/>
<line x1="522.68" x2="522.68" y1="214.1" y2="393.6" stroke="#f0f0f0" stroke-width="0.55"/>
<line x1="386.66" x2="548.41" y1="365.04" y2="365.04" stroke="#f0f0f0" stroke-width="0.55"/>
<line x1="386.66" x2="548.41" y1="324.25" y2="324.25" stroke="#f0f0f0" stroke-width="0.55"/>
<line x1="386.66" x2="548.41" y1="283.45" y2="283.45" stroke="#f0f0f0" stroke-width="0.55"/>
<line x1="386.66" x2="548.41" y1="242.66" y2="242.66" stroke="#f0f0f0" stroke-width="0.55"/>
<line x1="394.06" x2="394.06" y1="214.1" y2="393.6" stroke="#ececec" stroke-width="0.85"/>
<line x1="430.81" x2="430.81" y1="214.1" y2="393.6" stroke="#ececec" stroke-width="0.85"/>
<line x1="467.56" x2="467.56" y1="214.1" y2="393.6" stroke="#ececec" stroke-width="0.85"/>
<line x1="504.31" x2="504.31" y1="214.1" y2="393.6" stroke="#ececec" stroke-width="0.85"/>
<line x1="541.06" x2="541.06" y1="214.1" y2="393.6" stroke="#ececec" stroke-width="0.85"/>
<line x1="386.66" x2="548.41" y1="385.44" y2="385.44" stroke="#ececec" stroke-width="0.85"/>
<line x1="386.66" x2="548.41" y1="344.65" y2="344.65" stroke="#ececec" stroke-width="0.85"/>
<line x1="386.66" x2="548.41" y1="303.85" y2="303.85" stroke="#ececec" stroke-width="0.85"/>
<line x1="386.66" x2="548.41" y1="263.05" y2="263.05" stroke="#ececec" stroke-width="0.85"/>
<line x1="386.66" x2="548.41" y1="222.26" y2="222.26" stroke="#ececec" stroke-width="0.85"/>
<path d="M394.4 340.0 L395.2 339.5 L396.0 339.1 L396.9 338.6 L397.7 338.0 L398.5 337.2 L399.4 336.2 L400.3 335.2 L401.1 334.0 L401.9 332.6 L402.8 331.1 L403.6 329.6 L404.4 328.0 L405.2 326.4 L406.1 324.9 L406.9 323.3 L407.8 321.9 L408.7 320.5 L409.5 319.2 L410.4 318.1 L411.2 317.2 L411.9 316.6 L412.5 316.2 L413.2 316.0 L413.8 316.1 L414.5 316.5 L415.1 317.2 L415.8 318.1 L416.5 319.2 L417.2 320.7 L417.9 322.4 L418.5 324.2 L419.2 325.9 L419.9 327.4 L420.5 328.8 L421.2 330.1 L421.9 331.3 L422.6 332.3 L423.2 333.2 L423.9 333.9 L424.6 334.4 L425.3 334.8 L426.0 335.0 L426.6 335.0 L427.3 334.7 L428.0 334.1 L428.6 333.3 L429.3 332.3 L430.0 331.3 L430.8 330.2 L431.6 328.9 L432.4 327.7 L433.3 326.6 L434.2 325.7 L435.2 325.0 L436.2 324.4 L437.3 323.7 L438.4 323.0 L439.6 322.4 L440.9 321.7 L442.0 321.0 L443.1 320.2 L444.1 319.4 L445.1 318.7 L446.1 317.9 L447.1 317.2 L448.1 316.4 L449.1 315.8 L450.1 315.2 L451.1 314.8 L452.1 314.5 L453.1 314.2 L454.1 313.9 L455.1 313.5 L456.1 313.1 L457.1 312.6 L458.1 312.0 L459.1 311.3 L460.2 310.5 L461.2 309.6 L462.2 308.8 L463.2 308.0 L464.1 307.2 L465.1 306.3 L466.2 305.4 L467.4 304.4 L468.6 303.2 L469.9 302.1 L471.1 300.9 L472.3 299.7 L473.5 298.6 L474.7 297.4 L475.8 296.2 L476.8 295.0 L477.6 293.9 L478.4 292.7 L479.2 291.5 L479.9 290.3 L480.5 289.0 L481.2 287.8 L481.8 286.8 L482.5 285.9 L483.1 285.2 L483.8 284.7 L484.5 284.4 L485.3 284.5 L486.2 285.0 L487.0 285.6 L487.9 286.2 L488.7 286.8 L489.5 287.4 L490.4 288.0 L491.2 288.5 L492.0 288.9 L492.9 289.2 L493.7 289.4 L494.6 289.5 L495.5 289.4 L496.3 289.2 L497.2 288.8 L498.0 288.5 L498.8 288.1 L499.7 287.5 L500.5 287.1 L501.3 286.8 L502.1 286.8 L503.0 286.9 L503.9 287.1 L504.7 287.5 L505.5 288.0 L506.3 288.7 L507.2 289.5 L508.0 290.2 L508.9 290.9 L509.7 291.7 L510.6 292.4 L511.4 292.9 L512.1 293.3 L512.8 293.6 L513.4 293.7 L514.1 293.6 L514.8 293.3 L515.4 292.9 L516.0 292.3 L516.7 291.5 L517.4 290.4 L518.0 289.0 L518.7 287.5 L519.4 286.2 L520.1 285.0 L520.7 283.9 L521.4 282.9 L522.1 282.1 L522.9 281.4 L523.8 280.8 L524.6 280.3 L525.5 280.1 L526.3 280.2 L527.1 280.4 L528.0 280.9 L528.8 281.5 L529.6 282.3 L530.5 283.3 L531.4 284.4 L532.2 285.5 L533.0 286.7 L533.9 287.9 L534.7 289.1 L535.5 290.2 L536.4 291.2 L537.3 292.1 L538.1 292.9 L538.9 293.6 L539.5 294.2 L540.0 294.7 L540.4 295.1 L540.9 295.6" fill="none" stroke="#eeeeee" stroke-width="5" stroke-linejoin="round" opacity="0.55"/>
<path d="M394.4 340.0 L395.2 339.5 L396.0 339.1 L396.9 338.6 L397.7 338.0 L398.5 337.2 L399.4 336.2 L400.3 335.2 L401.1 334.0 L401.9 332.6 L402.8 331.1 L403.6 329.6 L404.4 328.0 L405.2 326.4 L406.1 324.9 L406.9 323.3 L407.8 321.9 L408.7 320.5 L409.5 319.2 L410.4 318.1 L411.2 317.2 L411.9 316.6 L412.5 316.2 L413.2 316.0 L413.8 316.1 L414.5 316.5 L415.1 317.2 L415.8 318.1 L416.5 319.2 L417.2 320.7 L417.9 322.4 L418.5 324.2 L419.2 325.9 L419.9 327.4 L420.5 328.8 L421.2 330.1 L421.9 331.3 L422.6 332.3 L423.2 333.2 L423.9 333.9 L424.6 334.4 L425.3 334.8 L426.0 335.0 L426.6 335.0 L427.3 334.7 L428.0 334.1 L428.6 333.3 L429.3 332.3 L430.0 331.3 L430.8 330.2 L431.6 328.9 L432.4 327.7 L433.3 326.6 L434.2 325.7 L435.2 325.0 L436.2 324.4 L437.3 323.7 L438.4 323.0 L439.6 322.4 L440.9 321.7 L442.0 321.0 L443.1 320.2 L444.1 319.4 L445.1 318.7 L446.1 317.9 L447.1 317.2 L448.1 316.4 L449.1 315.8 L450.1 315.2 L451.1 314.8 L452.1 314.5 L453.1 314.2 L454.1 313.9 L455.1 313.5 L456.1 313.1 L457.1 312.6 L458.1 312.0 L459.1 311.3 L460.2 310.5 L461.2 309.6 L462.2 308.8 L463.2 308.0 L464.1 307.2 L465.1 306.3 L466.2 305.4 L467.4 304.4 L468.6 303.2 L469.9 302.1 L471.1 300.9 L472.3 299.7 L473.5 298.6 L474.7 297.4 L475.8 296.2 L476.8 295.0 L477.6 293.9 L478.4 292.7 L479.2 291.5 L479.9 290.3 L480.5 289.0 L481.2 287.8 L481.8 286.8 L482.5 285.9 L483.1 285.2 L483.8 284.7 L484.5 284.4 L485.3 284.5 L486.2 285.0 L487.0 285.6 L487.9 286.2 L488.7 286.8 L489.5 287.4 L490.4 288.0 L491.2 288.5 L492.0 288.9 L492.9 289.2 L493.7 289.4 L494.6 289.5 L495.5 289.4 L496.3 289.2 L497.2 288.8 L498.0 288.5 L498.8 288.1 L499.7 287.5 L500.5 287.1 L501.3 286.8 L502.1 286.8 L503.0 286.9 L503.9 287.1 L504.7 287.5 L505.5 288.0 L506.3 288.7 L507.2 289.5 L508.0 290.2 L508.9 290.9 L509.7 291.7 L510.6 292.4 L511.4 292.9 L512.1 293.3 L512.8 293.6 L513.4 293.7 L514.1 293.6 L514.8 293.3 L515.4 292.9 L516.0 292.3 L516.7 291.5 L517.4 290.4 L518.0 289.0 L518.7 287.5 L519.4 286.2 L520.1 285.0 L520.7 283.9 L521.4 282.9 L522.1 282.1 L522.9 281.4 L523.8 280.8 L524.6 280.3 L525.5 280.1 L526.3 280.2 L527.1 280.4 L528.0 280.9 L528.8 281.5 L529.6 282.3 L530.5 283.3 L531.4 284.4 L532.2 285.5 L533.0 286.7 L533.9 287.9 L534.7 289.1 L535.5 290.2 L536.4 291.2 L537.3 292.1 L538.1 292.9 L538.9 293.6 L539.5 294.2 L540.0 294.7 L540.4 295.1 L540.9 295.6" fill="none" stroke="#ea6f76" stroke-width="1.3" stroke-linejoin="round"/>
<path d="M394.4 335.5 L395.2 335.3 L396.0 335.1 L396.9 334.8 L397.7 334.4 L398.5 333.8 L399.4 333.1 L400.3 332.3 L401.1 331.3 L401.9 330.1 L402.8 328.6 L403.6 327.1 L404.4 325.5 L405.2 323.9 L406.1 322.4 L406.9 320.8 L407.8 319.4 L408.7 318.0 L409.5 316.7 L410.4 315.6 L411.2 314.7 L411.9 314.1 L412.5 313.7 L413.2 313.5 L413.8 313.6 L414.5 314.0 L415.1 314.7 L415.8 315.6 L416.5 316.7 L417.2 318.2 L417.9 319.9 L418.5 321.7 L419.2 323.4 L419.9 324.9 L420.5 326.3 L421.2 327.6 L421.9 328.8 L422.6 329.8 L423.2 330.7 L423.9 331.4 L424.6 331.9 L425.3 332.3 L426.0 332.5 L426.6 332.5 L427.3 332.2 L428.0 331.6 L428.6 330.8 L429.3 329.8 L430.0 328.8 L430.8 327.7 L431.6 326.4 L432.4 325.2 L433.3 324.1 L434.2 323.2 L435.2 322.5 L436.2 321.9 L437.3 321.2 L438.4 320.5 L439.6 319.9 L440.9 319.2 L442.0 318.5 L443.1 317.7 L444.1 316.9 L445.1 316.2 L446.1 315.4 L447.1 314.7 L448.1 313.9 L449.1 313.3 L450.1 312.7 L451.1 312.3 L452.1 312.0 L453.1 311.7 L454.1 311.4 L455.1 311.0 L456.1 310.6 L457.1 310.1 L458.1 309.5 L459.1 308.8 L460.2 308.0 L461.2 307.1 L462.2 306.3 L463.2 305.5 L464.1 304.7 L465.1 303.8 L466.2 302.9 L467.4 301.9 L468.6 300.7 L469.9 299.6 L471.1 298.4 L472.3 297.2 L473.5 296.1 L474.7 294.9 L475.8 293.7 L476.8 292.5 L477.6 291.4 L478.4 290.2 L479.2 289.0 L479.9 287.8 L480.5 286.5 L481.2 285.3 L481.8 284.3 L482.5 283.4 L483.1 282.7 L483.8 282.2 L484.5 281.9 L485.3 282.0 L486.2 282.5 L487.0 283.1 L487.9 283.7 L488.7 284.3 L489.5 284.9 L490.4 285.5 L491.2 286.0 L492.0 286.4 L492.9 286.7 L493.7 286.9 L494.6 287.0 L495.5 286.9 L496.3 286.7 L497.2 286.3 L498.0 286.0 L498.8 285.6 L499.7 285.0 L500.5 284.6 L501.3 284.3 L502.1 284.3 L503.0 284.4 L503.9 284.6 L504.7 285.0 L505.5 285.5 L506.3 286.2 L507.2 287.0 L508.0 287.7 L508.9 288.4 L509.7 289.2 L510.6 289.9 L511.4 290.4 L512.1 290.8 L512.8 291.1 L513.4 291.2 L514.1 291.1 L514.8 290.8 L515.4 290.4 L516.0 289.8 L516.7 289.0 L517.4 287.9 L518.0 286.5 L518.7 285.0 L519.4 283.7 L520.1 282.5 L520.7 281.4 L521.4 280.4 L522.1 279.6 L522.9 278.9 L523.8 278.3 L524.6 277.8 L525.5 277.6 L526.3 277.7 L527.1 277.9 L528.0 278.4 L528.8 279.0 L529.6 279.8 L530.5 280.8 L531.4 281.9 L532.2 283.0 L533.0 284.2 L533.9 285.4 L534.7 286.6 L535.5 287.5 L536.4 288.3 L537.3 288.9 L538.1 289.5 L538.9 290.0 L539.5 290.4 L540.0 290.6 L540.4 290.9 L540.9 291.1" fill="none" stroke="#3bada3" stroke-width="1.65" stroke-dasharray="4.8 5.2" stroke-dashoffset="7.5" stroke-linejoin="round"/>
<path d="M394.4 344.5 L395.2 343.8 L396.0 343.2 L396.9 342.5 L397.7 341.6 L398.5 340.6 L399.4 339.4 L400.3 338.1 L401.1 336.7 L401.9 335.1 L402.8 333.6 L403.6 332.1 L404.4 330.5 L405.2 328.9 L406.1 327.4 L406.9 325.8 L407.8 324.4 L408.7 323.0 L409.5 321.7 L410.4 320.6 L411.2 319.7 L411.9 319.1 L412.5 318.7 L413.2 318.5 L413.8 318.6 L414.5 319.0 L415.1 319.7 L415.8 320.6 L416.5 321.7 L417.2 323.2 L417.9 324.9 L418.5 326.7 L419.2 328.4 L419.9 329.9 L420.5 331.3 L421.2 332.6 L421.9 333.8 L422.6 334.8 L423.2 335.7 L423.9 336.4 L424.6 336.9 L425.3 337.3 L426.0 337.5 L426.6 337.5 L427.3 337.2 L428.0 336.6 L428.6 335.8 L429.3 334.8 L430.0 333.8 L430.8 332.7 L431.6 331.4 L432.4 330.2 L433.3 329.1 L434.2 328.2 L435.2 327.5 L436.2 326.9 L437.3 326.2 L438.4 325.5 L439.6 324.9 L440.9 324.2 L442.0 323.5 L443.1 322.7 L444.1 321.9 L445.1 321.2 L446.1 320.4 L447.1 319.7 L448.1 318.9 L449.1 318.3 L450.1 317.7 L451.1 317.3 L452.1 317.0 L453.1 316.7 L454.1 316.4 L455.1 316.0 L456.1 315.6 L457.1 315.1 L458.1 314.5 L459.1 313.8 L460.2 313.0 L461.2 312.1 L462.2 311.3 L463.2 310.5 L464.1 309.7 L465.1 308.8 L466.2 307.9 L467.4 306.9 L468.6 305.7 L469.9 304.6 L471.1 303.4 L472.3 302.2 L473.5 301.1 L474.7 299.9 L475.8 298.7 L476.8 297.5 L477.6 296.4 L478.4 295.2 L479.2 294.0 L479.9 292.8 L480.5 291.5 L481.2 290.3 L481.8 289.3 L482.5 288.4 L483.1 287.7 L483.8 287.2 L484.5 286.9 L485.3 287.0 L486.2 287.5 L487.0 288.1 L487.9 288.7 L488.7 289.3 L489.5 289.9 L490.4 290.5 L491.2 291.0 L492.0 291.4 L492.9 291.7 L493.7 291.9 L494.6 292.0 L495.5 291.9 L496.3 291.7 L497.2 291.3 L498.0 291.0 L498.8 290.6 L499.7 290.0 L500.5 289.6 L501.3 289.3 L502.1 289.3 L503.0 289.4 L503.9 289.6 L504.7 290.0 L505.5 290.5 L506.3 291.2 L507.2 292.0 L508.0 292.7 L508.9 293.4 L509.7 294.2 L510.6 294.9 L511.4 295.4 L512.1 295.8 L512.8 296.1 L513.4 296.2 L514.1 296.1 L514.8 295.8 L515.4 295.4 L516.0 294.8 L516.7 294.0 L517.4 292.9 L518.0 291.5 L518.7 290.0 L519.4 288.7 L520.1 287.5 L520.7 286.4 L521.4 285.4 L522.1 284.6 L522.9 283.9 L523.8 283.3 L524.6 282.8 L525.5 282.6 L526.3 282.7 L527.1 282.9 L528.0 283.4 L528.8 284.0 L529.6 284.8 L530.5 285.8 L531.4 286.9 L532.2 288.0 L533.0 289.2 L533.9 290.4 L534.7 291.6 L535.5 292.9 L536.4 294.1 L537.3 295.2 L538.1 296.2 L538.9 297.2 L539.5 298.0 L540.0 298.7 L540.4 299.4 L540.9 300.1" fill="none" stroke="#3bada3" stroke-width="1.65" stroke-dasharray="4.8 5.2" stroke-dashoffset="2.5" stroke-linejoin="round"/>
<line x1="443.06" x2="443.06" y1="393.6" y2="214.1" stroke="#262626" stroke-width="1.4" stroke-dasharray="1.5 3.83"/>
<line x1="492.06" x2="492.06" y1="393.6" y2="214.1" stroke="#262626" stroke-width="1.4" stroke-dasharray="1.5 3.83"/>
<text transform="translate(418.16,237.20) scale(1,1.055)" font-size="20.8" fill="#3b4a9e" stroke="#3b4a9e" stroke-width="0.35" text-anchor="middle">I</text>
<text transform="translate(467.06,237.20) scale(1,1.055)" font-size="20.8" fill="#3b4a9e" stroke="#3b4a9e" stroke-width="0.35" text-anchor="middle">S</text>
<text transform="translate(517.56,237.20) scale(1,1.055)" font-size="20.8" fill="#3b4a9e" stroke="#3b4a9e" stroke-width="0.35" text-anchor="middle">R</text>
<rect x="386.66" y="214.1" width="161.75" height="179.50" fill="none" stroke="#3d3d3d" stroke-width="1.6"/>
</g>
<g>
<rect x="555.34" y="214.1" width="161.75" height="179.50" fill="#fff"/>
<line x1="581.12" x2="581.12" y1="214.1" y2="393.6" stroke="#f0f0f0" stroke-width="0.55"/>
<line x1="617.87" x2="617.87" y1="214.1" y2="393.6" stroke="#f0f0f0" stroke-width="0.55"/>
<line x1="654.62" x2="654.62" y1="214.1" y2="393.6" stroke="#f0f0f0" stroke-width="0.55"/>
<line x1="691.37" x2="691.37" y1="214.1" y2="393.6" stroke="#f0f0f0" stroke-width="0.55"/>
<line x1="555.34" x2="717.09" y1="365.04" y2="365.04" stroke="#f0f0f0" stroke-width="0.55"/>
<line x1="555.34" x2="717.09" y1="324.25" y2="324.25" stroke="#f0f0f0" stroke-width="0.55"/>
<line x1="555.34" x2="717.09" y1="283.45" y2="283.45" stroke="#f0f0f0" stroke-width="0.55"/>
<line x1="555.34" x2="717.09" y1="242.66" y2="242.66" stroke="#f0f0f0" stroke-width="0.55"/>
<line x1="562.74" x2="562.74" y1="214.1" y2="393.6" stroke="#ececec" stroke-width="0.85"/>
<line x1="599.49" x2="599.49" y1="214.1" y2="393.6" stroke="#ececec" stroke-width="0.85"/>
<line x1="636.24" x2="636.24" y1="214.1" y2="393.6" stroke="#ececec" stroke-width="0.85"/>
<line x1="672.99" x2="672.99" y1="214.1" y2="393.6" stroke="#ececec" stroke-width="0.85"/>
<line x1="709.74" x2="709.74" y1="214.1" y2="393.6" stroke="#ececec" stroke-width="0.85"/>
<line x1="555.34" x2="717.09" y1="385.44" y2="385.44" stroke="#ececec" stroke-width="0.85"/>
<line x1="555.34" x2="717.09" y1="344.65" y2="344.65" stroke="#ececec" stroke-width="0.85"/>
<line x1="555.34" x2="717.09" y1="303.85" y2="303.85" stroke="#ececec" stroke-width="0.85"/>
<line x1="555.34" x2="717.09" y1="263.05" y2="263.05" stroke="#ececec" stroke-width="0.85"/>
<line x1="555.34" x2="717.09" y1="222.26" y2="222.26" stroke="#ececec" stroke-width="0.85"/>
<path d="M562.7 339.4 L563.8 339.1 L564.9 338.9 L566.0 338.6 L567.1 338.3 L568.3 338.0 L569.4 337.7 L570.6 337.5 L571.8 337.2 L573.0 337.0 L574.2 336.9 L575.4 336.7 L576.5 336.3 L577.6 335.6 L578.6 334.8 L579.6 333.9 L580.5 333.0 L581.4 332.1 L582.3 331.2 L583.1 330.3 L583.9 329.6 L584.6 329.1 L585.2 328.7 L585.9 328.4 L586.5 328.3 L587.2 328.4 L587.8 328.7 L588.5 329.1 L589.2 329.6 L590.0 330.2 L590.9 330.9 L591.8 331.7 L592.6 332.3 L593.3 332.8 L594.0 333.2 L594.6 333.5 L595.3 333.6 L596.0 333.4 L596.7 333.0 L597.3 332.4 L598.0 331.6 L598.7 330.5 L599.3 329.2 L599.9 327.7 L600.6 326.2 L601.3 324.7 L601.9 323.1 L602.6 321.5 L603.3 320.2 L604.0 319.1 L604.6 318.1 L605.3 317.4 L606.0 316.8 L606.7 316.5 L607.4 316.4 L608.0 316.5 L608.7 316.6 L609.4 316.8 L610.1 317.0 L610.7 317.3 L611.4 317.5 L612.0 317.6 L612.7 317.7 L613.3 317.7 L614.1 317.5 L615.0 317.0 L616.0 316.4 L617.1 315.6 L618.1 314.8 L619.1 314.0 L620.1 313.2 L621.1 312.3 L622.1 311.5 L623.1 310.7 L624.2 309.9 L625.2 309.0 L626.1 308.1 L627.0 307.1 L627.8 306.0 L628.5 304.9 L629.2 303.6 L629.8 302.2 L630.4 300.8 L630.9 299.2 L631.5 297.5 L632.2 295.6 L632.9 293.6 L633.6 291.5 L634.4 289.5 L635.2 287.6 L636.0 285.8 L636.9 284.1 L637.8 282.6 L638.8 281.3 L639.8 280.1 L640.8 279.0 L641.8 277.9 L642.8 276.9 L643.8 275.9 L644.8 274.9 L645.8 273.9 L646.8 272.7 L647.8 271.4 L648.8 270.2 L649.8 269.2 L650.7 268.4 L651.5 267.7 L652.4 267.3 L653.2 267.1 L654.0 267.3 L654.8 267.8 L655.6 268.4 L656.5 269.2 L657.5 270.1 L658.5 271.1 L659.5 272.2 L660.6 273.2 L661.7 274.2 L662.9 275.2 L664.1 276.2 L665.3 277.2 L666.5 278.1 L667.7 279.1 L668.9 279.9 L670.0 280.6 L671.0 281.1 L672.0 281.6 L673.0 281.8 L674.0 281.9 L675.0 281.7 L676.0 281.3 L677.0 280.7 L678.0 280.2 L679.0 279.6 L680.0 279.0 L681.0 278.4 L682.0 277.9 L682.9 277.5 L683.7 277.2 L684.6 277.0 L685.4 276.9 L686.3 277.0 L687.1 277.1 L688.0 277.4 L688.8 277.9 L689.6 278.5 L690.4 279.3 L691.2 280.2 L692.1 281.2 L693.0 282.4 L694.1 283.9 L695.1 285.3 L696.1 286.6 L697.1 287.7 L698.1 288.8 L699.2 289.8 L700.2 290.6 L701.2 291.3 L702.3 292.0 L703.3 292.5 L704.2 292.7 L705.0 292.6 L705.6 292.3 L706.2 291.9 L706.9 291.3 L707.6 290.6 L708.3 289.8 L709.1 288.9 L709.8 288.0" fill="none" stroke="#eeeeee" stroke-width="5" stroke-linejoin="round" opacity="0.55"/>
<path d="M562.7 339.4 L563.8 339.1 L564.9 338.9 L566.0 338.6 L567.1 338.3 L568.3 338.0 L569.4 337.7 L570.6 337.5 L571.8 337.2 L573.0 337.0 L574.2 336.9 L575.4 336.7 L576.5 336.3 L577.6 335.6 L578.6 334.8 L579.6 333.9 L580.5 333.0 L581.4 332.1 L582.3 331.2 L583.1 330.3 L583.9 329.6 L584.6 329.1 L585.2 328.7 L585.9 328.4 L586.5 328.3 L587.2 328.4 L587.8 328.7 L588.5 329.1 L589.2 329.6 L590.0 330.2 L590.9 330.9 L591.8 331.7 L592.6 332.3 L593.3 332.8 L594.0 333.2 L594.6 333.5 L595.3 333.6 L596.0 333.4 L596.7 333.0 L597.3 332.4 L598.0 331.6 L598.7 330.5 L599.3 329.2 L599.9 327.7 L600.6 326.2 L601.3 324.7 L601.9 323.1 L602.6 321.5 L603.3 320.2 L604.0 319.1 L604.6 318.1 L605.3 317.4 L606.0 316.8 L606.7 316.5 L607.4 316.4 L608.0 316.5 L608.7 316.6 L609.4 316.8 L610.1 317.0 L610.7 317.3 L611.4 317.5 L612.0 317.6 L612.7 317.7 L613.3 317.7 L614.1 317.5 L615.0 317.0 L616.0 316.4 L617.1 315.6 L618.1 314.8 L619.1 314.0 L620.1 313.2 L621.1 312.3 L622.1 311.5 L623.1 310.7 L624.2 309.9 L625.2 309.0 L626.1 308.1 L627.0 307.1 L627.8 306.0 L628.5 304.9 L629.2 303.6 L629.8 302.2 L630.4 300.8 L630.9 299.2 L631.5 297.5 L632.2 295.6 L632.9 293.6 L633.6 291.5 L634.4 289.5 L635.2 287.6 L636.0 285.8 L636.9 284.1 L637.8 282.6 L638.8 281.3 L639.8 280.1 L640.8 279.0 L641.8 277.9 L642.8 276.9 L643.8 275.9 L644.8 274.9 L645.8 273.9 L646.8 272.7 L647.8 271.4 L648.8 270.2 L649.8 269.2 L650.7 268.4 L651.5 267.7 L652.4 267.3 L653.2 267.1 L654.0 267.3 L654.8 267.8 L655.6 268.4 L656.5 269.2 L657.5 270.1 L658.5 271.1 L659.5 272.2 L660.6 273.2 L661.7 274.2 L662.9 275.2 L664.1 276.2 L665.3 277.2 L666.5 278.1 L667.7 279.1 L668.9 279.9 L670.0 280.6 L671.0 281.1 L672.0 281.6 L673.0 281.8 L674.0 281.9 L675.0 281.7 L676.0 281.3 L677.0 280.7 L678.0 280.2 L679.0 279.6 L680.0 279.0 L681.0 278.4 L682.0 277.9 L682.9 277.5 L683.7 277.2 L684.6 277.0 L685.4 276.9 L686.3 277.0 L687.1 277.1 L688.0 277.4 L688.8 277.9 L689.6 278.5 L690.4 279.3 L691.2 280.2 L692.1 281.2 L693.0 282.4 L694.1 283.9 L695.1 285.3 L696.1 286.6 L697.1 287.7 L698.1 288.8 L699.2 289.8 L700.2 290.6 L701.2 291.3 L702.3 292.0 L703.3 292.5 L704.2 292.7 L705.0 292.6 L705.6 292.3 L706.2 291.9 L706.9 291.3 L707.6 290.6 L708.3 289.8 L709.1 288.9 L709.8 288.0" fill="none" stroke="#ea6f76" stroke-width="1.3" stroke-linejoin="round"/>
<path d="M562.7 334.7 L563.8 334.7 L564.9 334.6 L566.0 334.6 L567.1 334.6 L568.3 334.5 L569.4 334.5 L570.6 334.4 L571.8 334.4 L573.0 334.3 L574.2 334.2 L575.4 334.0 L576.5 333.6 L577.6 332.9 L578.6 332.1 L579.6 331.2 L580.5 330.3 L581.4 329.4 L582.3 328.5 L583.1 327.6 L583.9 326.9 L584.6 326.4 L585.2 326.0 L585.9 325.7 L586.5 325.6 L587.2 325.7 L587.8 326.0 L588.5 326.4 L589.2 326.9 L590.0 327.5 L590.9 328.2 L591.8 329.0 L592.6 329.6 L593.3 330.1 L594.0 330.5 L594.6 330.8 L595.3 330.9 L596.0 330.7 L596.7 330.3 L597.3 329.7 L598.0 328.9 L598.7 327.8 L599.3 326.5 L599.9 325.0 L600.6 323.5 L601.3 322.0 L601.9 320.4 L602.6 318.8 L603.3 317.5 L604.0 316.4 L604.6 315.4 L605.3 314.7 L606.0 314.1 L606.7 313.8 L607.4 313.7 L608.0 313.8 L608.7 313.9 L609.4 314.1 L610.1 314.3 L610.7 314.6 L611.4 314.8 L612.0 314.9 L612.7 315.0 L613.3 315.0 L614.1 314.8 L615.0 314.3 L616.0 313.7 L617.1 312.9 L618.1 312.1 L619.1 311.3 L620.1 310.5 L621.1 309.6 L622.1 308.8 L623.1 308.0 L624.2 307.2 L625.2 306.3 L626.1 305.4 L627.0 304.4 L627.8 303.3 L628.5 302.2 L629.2 300.9 L629.8 299.5 L630.4 298.1 L630.9 296.5 L631.5 294.8 L632.2 292.9 L632.9 290.9 L633.6 288.8 L634.4 286.8 L635.2 284.9 L636.0 283.1 L636.9 281.4 L637.8 279.9 L638.8 278.6 L639.8 277.4 L640.8 276.3 L641.8 275.2 L642.8 274.2 L643.8 273.2 L644.8 272.2 L645.8 271.2 L646.8 270.0 L647.8 268.7 L648.8 267.5 L649.8 266.5 L650.7 265.7 L651.5 265.0 L652.4 264.6 L653.2 264.4 L654.0 264.6 L654.8 265.1 L655.6 265.7 L656.5 266.5 L657.5 267.4 L658.5 268.4 L659.5 269.5 L660.6 270.5 L661.7 271.5 L662.9 272.5 L664.1 273.5 L665.3 274.5 L666.5 275.4 L667.7 276.4 L668.9 277.2 L670.0 277.9 L671.0 278.4 L672.0 278.9 L673.0 279.1 L674.0 279.2 L675.0 279.0 L676.0 278.6 L677.0 278.0 L678.0 277.5 L679.0 276.9 L680.0 276.3 L681.0 275.7 L682.0 275.2 L682.9 274.8 L683.7 274.5 L684.6 274.3 L685.4 274.2 L686.3 274.3 L687.1 274.4 L688.0 274.7 L688.8 275.2 L689.6 275.8 L690.4 276.6 L691.2 277.5 L692.1 278.5 L693.0 279.7 L694.1 281.2 L695.1 282.6 L696.1 283.9 L697.1 285.0 L698.1 286.1 L699.2 287.1 L700.2 287.9 L701.2 288.6 L702.3 289.3 L703.3 289.8 L704.2 289.9 L705.0 289.6 L705.6 289.1 L706.2 288.4 L706.9 287.6 L707.6 286.6 L708.3 285.5 L709.1 284.4 L709.8 283.3" fill="none" stroke="#3bada3" stroke-width="1.65" stroke-dasharray="4.8 5.2" stroke-dashoffset="7.5" stroke-linejoin="round"/>
<path d="M562.7 344.1 L563.8 343.6 L564.9 343.1 L566.0 342.6 L567.1 342.0 L568.3 341.5 L569.4 341.0 L570.6 340.5 L571.8 340.0 L573.0 339.7 L574.2 339.6 L575.4 339.4 L576.5 339.0 L577.6 338.3 L578.6 337.5 L579.6 336.6 L580.5 335.7 L581.4 334.8 L582.3 333.9 L583.1 333.0 L583.9 332.3 L584.6 331.8 L585.2 331.4 L585.9 331.1 L586.5 331.0 L587.2 331.1 L587.8 331.4 L588.5 331.8 L589.2 332.3 L590.0 332.9 L590.9 333.6 L591.8 334.4 L592.6 335.0 L593.3 335.5 L594.0 335.9 L594.6 336.2 L595.3 336.3 L596.0 336.1 L596.7 335.7 L597.3 335.1 L598.0 334.3 L598.7 333.2 L599.3 331.9 L599.9 330.4 L600.6 328.9 L601.3 327.4 L601.9 325.8 L602.6 324.2 L603.3 322.9 L604.0 321.8 L604.6 320.8 L605.3 320.1 L606.0 319.5 L606.7 319.2 L607.4 319.1 L608.0 319.2 L608.7 319.3 L609.4 319.5 L610.1 319.7 L610.7 320.0 L611.4 320.2 L612.0 320.3 L612.7 320.4 L613.3 320.4 L614.1 320.2 L615.0 319.7 L616.0 319.1 L617.1 318.3 L618.1 317.5 L619.1 316.7 L620.1 315.9 L621.1 315.0 L622.1 314.2 L623.1 313.4 L624.2 312.6 L625.2 311.7 L626.1 310.8 L627.0 309.8 L627.8 308.7 L628.5 307.6 L629.2 306.3 L629.8 304.9 L630.4 303.5 L630.9 301.9 L631.5 300.2 L632.2 298.3 L632.9 296.2 L633.6 294.2 L634.4 292.2 L635.2 290.3 L636.0 288.5 L636.9 286.8 L637.8 285.3 L638.8 284.0 L639.8 282.8 L640.8 281.7 L641.8 280.6 L642.8 279.6 L643.8 278.6 L644.8 277.6 L645.8 276.6 L646.8 275.4 L647.8 274.1 L648.8 272.9 L649.8 271.9 L650.7 271.1 L651.5 270.4 L652.4 270.0 L653.2 269.8 L654.0 270.0 L654.8 270.5 L655.6 271.1 L656.5 271.9 L657.5 272.8 L658.5 273.8 L659.5 274.9 L660.6 275.9 L661.7 276.9 L662.9 277.9 L664.1 278.9 L665.3 279.9 L666.5 280.8 L667.7 281.8 L668.9 282.6 L670.0 283.3 L671.0 283.8 L672.0 284.3 L673.0 284.5 L674.0 284.6 L675.0 284.4 L676.0 284.0 L677.0 283.4 L678.0 282.9 L679.0 282.3 L680.0 281.7 L681.0 281.1 L682.0 280.6 L682.9 280.2 L683.7 279.9 L684.6 279.7 L685.4 279.6 L686.3 279.7 L687.1 279.8 L688.0 280.1 L688.8 280.6 L689.6 281.2 L690.4 282.0 L691.2 282.9 L692.1 283.9 L693.0 285.1 L694.1 286.6 L695.1 288.0 L696.1 289.3 L697.1 290.4 L698.1 291.5 L699.2 292.5 L700.2 293.3 L701.2 294.0 L702.3 294.7 L703.3 295.2 L704.2 295.5 L705.0 295.7 L705.6 295.6 L706.2 295.4 L706.9 295.0 L707.6 294.6 L708.3 294.0 L709.1 293.3 L709.8 292.7" fill="none" stroke="#3bada3" stroke-width="1.65" stroke-dasharray="4.8 5.2" stroke-dashoffset="2.5" stroke-linejoin="round"/>
<line x1="611.74" x2="611.74" y1="393.6" y2="214.1" stroke="#262626" stroke-width="1.4" stroke-dasharray="1.5 3.83"/>
<line x1="660.74" x2="660.74" y1="393.6" y2="214.1" stroke="#262626" stroke-width="1.4" stroke-dasharray="1.5 3.83"/>
<text transform="translate(586.84,237.20) scale(1,1.055)" font-size="20.8" fill="#3b4a9e" stroke="#3b4a9e" stroke-width="0.35" text-anchor="middle">I</text>
<text transform="translate(635.74,237.20) scale(1,1.055)" font-size="20.8" fill="#3b4a9e" stroke="#3b4a9e" stroke-width="0.35" text-anchor="middle">S</text>
<text transform="translate(686.24,237.20) scale(1,1.055)" font-size="20.8" fill="#3b4a9e" stroke="#3b4a9e" stroke-width="0.35" text-anchor="middle">R</text>
<rect x="555.34" y="214.1" width="161.75" height="179.50" fill="none" stroke="#3d3d3d" stroke-width="1.6"/>
</g>
<line x1="45.8" x2="49.3" y1="199.03" y2="199.03" stroke="#333" stroke-width="1.1"/>
<text transform="translate(42.3,204.43) scale(1,1.07)" font-size="14" fill="#4d4d4d" stroke="#4d4d4d" stroke-width="0.2" text-anchor="end">0.3</text>
<line x1="45.8" x2="49.3" y1="158.19" y2="158.19" stroke="#333" stroke-width="1.1"/>
<text transform="translate(42.3,163.59) scale(1,1.07)" font-size="14" fill="#4d4d4d" stroke="#4d4d4d" stroke-width="0.2" text-anchor="end">0.4</text>
<line x1="45.8" x2="49.3" y1="117.35" y2="117.35" stroke="#333" stroke-width="1.1"/>
<text transform="translate(42.3,122.75) scale(1,1.07)" font-size="14" fill="#4d4d4d" stroke="#4d4d4d" stroke-width="0.2" text-anchor="end">0.5</text>
<line x1="45.8" x2="49.3" y1="76.51" y2="76.51" stroke="#333" stroke-width="1.1"/>
<text transform="translate(42.3,81.91) scale(1,1.07)" font-size="14" fill="#4d4d4d" stroke="#4d4d4d" stroke-width="0.2" text-anchor="end">0.6</text>
<line x1="45.8" x2="49.3" y1="35.67" y2="35.67" stroke="#333" stroke-width="1.1"/>
<text transform="translate(42.3,41.07) scale(1,1.07)" font-size="14" fill="#4d4d4d" stroke="#4d4d4d" stroke-width="0.2" text-anchor="end">0.7</text>
<line x1="45.8" x2="49.3" y1="385.44" y2="385.44" stroke="#333" stroke-width="1.1"/>
<text transform="translate(42.3,390.84) scale(1,1.07)" font-size="14" fill="#4d4d4d" stroke="#4d4d4d" stroke-width="0.2" text-anchor="end">0.3</text>
<line x1="45.8" x2="49.3" y1="344.65" y2="344.65" stroke="#333" stroke-width="1.1"/>
<text transform="translate(42.3,350.05) scale(1,1.07)" font-size="14" fill="#4d4d4d" stroke="#4d4d4d" stroke-width="0.2" text-anchor="end">0.4</text>
<line x1="45.8" x2="49.3" y1="303.85" y2="303.85" stroke="#333" stroke-width="1.1"/>
<text transform="translate(42.3,309.25) scale(1,1.07)" font-size="14" fill="#4d4d4d" stroke="#4d4d4d" stroke-width="0.2" text-anchor="end">0.5</text>
<line x1="45.8" x2="49.3" y1="263.05" y2="263.05" stroke="#333" stroke-width="1.1"/>
<text transform="translate(42.3,268.45) scale(1,1.07)" font-size="14" fill="#4d4d4d" stroke="#4d4d4d" stroke-width="0.2" text-anchor="end">0.6</text>
<line x1="45.8" x2="49.3" y1="222.26" y2="222.26" stroke="#333" stroke-width="1.1"/>
<text transform="translate(42.3,227.66) scale(1,1.07)" font-size="14" fill="#4d4d4d" stroke="#4d4d4d" stroke-width="0.2" text-anchor="end">0.7</text>
<line x1="56.70" x2="56.70" y1="393.6" y2="397.20000000000005" stroke="#333" stroke-width="1.1"/>
<text transform="translate(69.80,408.90) rotate(-45) scale(1,1.07)" font-size="14" fill="#4d4d4d" stroke="#4d4d4d" stroke-width="0.2" text-anchor="end">0.00</text>
<line x1="93.45" x2="93.45" y1="393.6" y2="397.20000000000005" stroke="#333" stroke-width="1.1"/>
<text transform="translate(106.55,408.90) rotate(-45) scale(1,1.07)" font-size="14" fill="#4d4d4d" stroke="#4d4d4d" stroke-width="0.2" text-anchor="end">0.25</text>
<line x1="130.20" x2="130.20" y1="393.6" y2="397.20000000000005" stroke="#333" stroke-width="1.1"/>
<text transform="translate(143.30,408.90) rotate(-45) scale(1,1.07)" font-size="14" fill="#4d4d4d" stroke="#4d4d4d" stroke-width="0.2" text-anchor="end">0.50</text>
<line x1="166.95" x2="166.95" y1="393.6" y2="397.20000000000005" stroke="#333" stroke-width="1.1"/>
<text transform="translate(180.05,408.90) rotate(-45) scale(1,1.07)" font-size="14" fill="#4d4d4d" stroke="#4d4d4d" stroke-width="0.2" text-anchor="end">0.75</text>
<line x1="203.70" x2="203.70" y1="393.6" y2="397.20000000000005" stroke="#333" stroke-width="1.1"/>
<text transform="translate(216.80,408.90) rotate(-45) scale(1,1.07)" font-size="14" fill="#4d4d4d" stroke="#4d4d4d" stroke-width="0.2" text-anchor="end">1.00</text>
<line x1="225.38" x2="225.38" y1="393.6" y2="397.20000000000005" stroke="#333" stroke-width="1.1"/>
<text transform="translate(238.48,408.90) rotate(-45) scale(1,1.07)" font-size="14" fill="#4d4d4d" stroke="#4d4d4d" stroke-width="0.2" text-anchor="end">0.00</text>
<line x1="262.13" x2="262.13" y1="393.6" y2="397.20000000000005" stroke="#333" stroke-width="1.1"/>
<text transform="translate(275.23,408.90) rotate(-45) scale(1,1.07)" font-size="14" fill="#4d4d4d" stroke="#4d4d4d" stroke-width="0.2" text-anchor="end">0.25</text>
<line x1="298.88" x2="298.88" y1="393.6" y2="397.20000000000005" stroke="#333" stroke-width="1.1"/>
<text transform="translate(311.98,408.90) rotate(-45) scale(1,1.07)" font-size="14" fill="#4d4d4d" stroke="#4d4d4d" stroke-width="0.2" text-anchor="end">0.50</text>
<line x1="335.63" x2="335.63" y1="393.6" y2="397.20000000000005" stroke="#333" stroke-width="1.1"/>
<text transform="translate(348.73,408.90) rotate(-45) scale(1,1.07)" font-size="14" fill="#4d4d4d" stroke="#4d4d4d" stroke-width="0.2" text-anchor="end">0.75</text>
<line x1="372.38" x2="372.38" y1="393.6" y2="397.20000000000005" stroke="#333" stroke-width="1.1"/>
<text transform="translate(385.48,408.90) rotate(-45) scale(1,1.07)" font-size="14" fill="#4d4d4d" stroke="#4d4d4d" stroke-width="0.2" text-anchor="end">1.00</text>
<line x1="394.06" x2="394.06" y1="393.6" y2="397.20000000000005" stroke="#333" stroke-width="1.1"/>
<text transform="translate(407.16,408.90) rotate(-45) scale(1,1.07)" font-size="14" fill="#4d4d4d" stroke="#4d4d4d" stroke-width="0.2" text-anchor="end">0.00</text>
<line x1="430.81" x2="430.81" y1="393.6" y2="397.20000000000005" stroke="#333" stroke-width="1.1"/>
<text transform="translate(443.91,408.90) rotate(-45) scale(1,1.07)" font-size="14" fill="#4d4d4d" stroke="#4d4d4d" stroke-width="0.2" text-anchor="end">0.25</text>
<line x1="467.56" x2="467.56" y1="393.6" y2="397.20000000000005" stroke="#333" stroke-width="1.1"/>
<text transform="translate(480.66,408.90) rotate(-45) scale(1,1.07)" font-size="14" fill="#4d4d4d" stroke="#4d4d4d" stroke-width="0.2" text-anchor="end">0.50</text>
<line x1="504.31" x2="504.31" y1="393.6" y2="397.20000000000005" stroke="#333" stroke-width="1.1"/>
<text transform="translate(517.41,408.90) rotate(-45) scale(1,1.07)" font-size="14" fill="#4d4d4d" stroke="#4d4d4d" stroke-width="0.2" text-anchor="end">0.75</text>
<line x1="541.06" x2="541.06" y1="393.6" y2="397.20000000000005" stroke="#333" stroke-width="1.1"/>
<text transform="translate(554.16,408.90) rotate(-45) scale(1,1.07)" font-size="14" fill="#4d4d4d" stroke="#4d4d4d" stroke-width="0.2" text-anchor="end">1.00</text>
<line x1="562.74" x2="562.74" y1="393.6" y2="397.20000000000005" stroke="#333" stroke-width="1.1"/>
<text transform="translate(575.84,408.90) rotate(-45) scale(1,1.07)" font-size="14" fill="#4d4d4d" stroke="#4d4d4d" stroke-width="0.2" text-anchor="end">0.00</text>
<line x1="599.49" x2="599.49" y1="393.6" y2="397.20000000000005" stroke="#333" stroke-width="1.1"/>
<text transform="translate(612.59,408.90) rotate(-45) scale(1,1.07)" font-size="14" fill="#4d4d4d" stroke="#4d4d4d" stroke-width="0.2" text-anchor="end">0.25</text>
<line x1="636.24" x2="636.24" y1="393.6" y2="397.20000000000005" stroke="#333" stroke-width="1.1"/>
<text transform="translate(649.34,408.90) rotate(-45) scale(1,1.07)" font-size="14" fill="#4d4d4d" stroke="#4d4d4d" stroke-width="0.2" text-anchor="end">0.50</text>
<line x1="672.99" x2="672.99" y1="393.6" y2="397.20000000000005" stroke="#333" stroke-width="1.1"/>
<text transform="translate(686.09,408.90) rotate(-45) scale(1,1.07)" font-size="14" fill="#4d4d4d" stroke="#4d4d4d" stroke-width="0.2" text-anchor="end">0.75</text>
<line x1="709.74" x2="709.74" y1="393.6" y2="397.20000000000005" stroke="#333" stroke-width="1.1"/>
<text transform="translate(722.84,408.90) rotate(-45) scale(1,1.07)" font-size="14" fill="#4d4d4d" stroke="#4d4d4d" stroke-width="0.2" text-anchor="end">1.00</text>
<text transform="translate(15.2,210.3) rotate(-90) scale(1,1.07)" font-size="16.95" font-weight="bold" fill="#000" text-anchor="middle">Estimated trajectory</text>
<text transform="translate(383.7,446.6) scale(1,1.06)" font-size="17.45" font-weight="bold" fill="#000" text-anchor="middle">Time</text>
<text transform="translate(190.3,466.0) scale(1,1.05)" font-size="17" font-weight="bold" fill="#2e4198" stroke="#2e4198" stroke-width="0.25" text-anchor="middle">Component 1: No response</text>
<text transform="translate(568.0,466.0) scale(1,1.05)" font-size="16.95" font-weight="bold" fill="#2e4198" stroke="#2e4198" stroke-width="0.25" text-anchor="middle">Component 2: Response</text>
</svg>
</body></html>
